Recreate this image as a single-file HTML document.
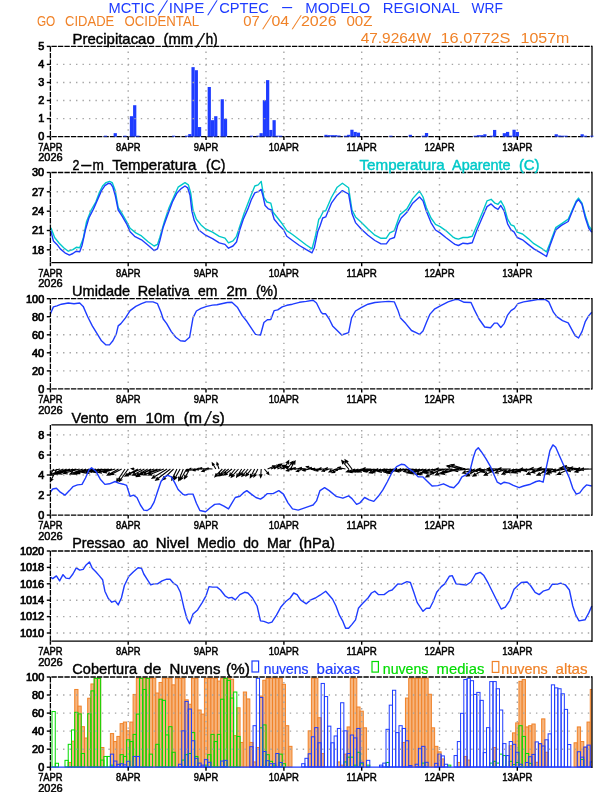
<!DOCTYPE html><html><head><meta charset="utf-8"><title>Meteograma WRF</title><style>html,body{margin:0;padding:0;background:#fff;}svg{display:block;}</style></head><body><svg width="612" height="792" viewBox="0 0 612 792" font-family="'Liberation Sans', sans-serif"><defs><clipPath id="c4"><rect x="50.4" y="424.9" width="541.6" height="90.2"/></clipPath><clipPath id="c6"><rect x="50.4" y="676.0" width="541.6" height="92.2"/></clipPath></defs><rect width="612" height="792" fill="#fff"/>
<text x="108.5" y="12.6" font-size="15.4" fill="rgb(30,60,255)" text-anchor="start" textLength="46.4" lengthAdjust="spacingAndGlyphs">MCTIC</text>
<text transform="translate(161.60,12.60) matrix(1,0,-0.5651,1.3333,-2.023,2.567)" x="0" y="0" font-size="15.4" fill="rgb(30,60,255)" text-anchor="middle">/</text>
<text x="168.8" y="12.6" font-size="15.4" fill="rgb(30,60,255)" text-anchor="start" textLength="35.5" lengthAdjust="spacingAndGlyphs">INPE</text>
<text transform="translate(211.45,12.60) matrix(1,0,-0.5562,1.3333,-1.992,2.567)" x="0" y="0" font-size="15.4" fill="rgb(30,60,255)" text-anchor="middle">/</text>
<text x="219.2" y="12.6" font-size="15.4" fill="rgb(30,60,255)" text-anchor="start" textLength="49.8" lengthAdjust="spacingAndGlyphs">CPTEC</text>
<text x="280.2" y="12.4" font-size="15.4" fill="rgb(30,60,255)" text-anchor="start" textLength="13.8" lengthAdjust="spacingAndGlyphs">-</text>
<text x="305.2" y="12.6" font-size="15.4" fill="rgb(30,60,255)" text-anchor="start" textLength="65.0" lengthAdjust="spacingAndGlyphs">MODELO</text>
<text x="382.8" y="12.6" font-size="15.4" fill="rgb(30,60,255)" text-anchor="start" textLength="77.0" lengthAdjust="spacingAndGlyphs">REGIONAL</text>
<text x="471.6" y="12.6" font-size="15.4" fill="rgb(30,60,255)" text-anchor="start" textLength="31.4" lengthAdjust="spacingAndGlyphs">WRF</text>
<text x="36.9" y="26.3" font-size="14.2" fill="rgb(240,130,40)" text-anchor="start" textLength="18.4" lengthAdjust="spacingAndGlyphs">GO</text>
<text x="65.1" y="26.3" font-size="14.2" fill="rgb(240,130,40)" text-anchor="start" textLength="49.1" lengthAdjust="spacingAndGlyphs">CIDADE</text>
<text x="124.5" y="26.3" font-size="14.2" fill="rgb(240,130,40)" text-anchor="start" textLength="74.6" lengthAdjust="spacingAndGlyphs">OCIDENTAL</text>
<text x="243.2" y="26.4" font-size="14.2" fill="rgb(240,130,40)" text-anchor="start" textLength="16.6" lengthAdjust="spacingAndGlyphs">07</text>
<text transform="translate(266.10,26.40) matrix(1,0,-0.5852,1.3333,-1.932,2.367)" x="0" y="0" font-size="14.2" fill="rgb(240,130,40)" text-anchor="middle">/</text>
<text x="271.5" y="26.4" font-size="14.2" fill="rgb(240,130,40)" text-anchor="start" textLength="17.7" lengthAdjust="spacingAndGlyphs">04</text>
<text transform="translate(295.60,26.40) matrix(1,0,-0.5852,1.3333,-1.932,2.367)" x="0" y="0" font-size="14.2" fill="rgb(240,130,40)" text-anchor="middle">/</text>
<text x="300.9" y="26.4" font-size="14.2" fill="rgb(240,130,40)" text-anchor="start" textLength="35.7" lengthAdjust="spacingAndGlyphs">2026</text>
<text x="346.4" y="26.4" font-size="14.2" fill="rgb(240,130,40)" text-anchor="start" textLength="26.0" lengthAdjust="spacingAndGlyphs">00Z</text>
<text x="360.7" y="42.6" font-size="14.6" fill="rgb(240,130,40)" text-anchor="start" textLength="70.3" lengthAdjust="spacingAndGlyphs">47.9264W</text>
<text x="440.5" y="42.6" font-size="14.6" fill="rgb(240,130,40)" text-anchor="start" textLength="70.0" lengthAdjust="spacingAndGlyphs">16.0772S</text>
<text x="520.5" y="42.6" font-size="14.6" fill="rgb(240,130,40)" text-anchor="start" textLength="48.8" lengthAdjust="spacingAndGlyphs">1057m</text>
<line x1="50.4" y1="46.4" x2="50.4" y2="136.6" stroke="#000" stroke-width="1.3" stroke-dasharray="5.4 1.1"/>
<line x1="592.0" y1="45.699999999999996" x2="592.0" y2="137.29999999999998" stroke="#000" stroke-width="1.3"/>
<line x1="51.4" y1="46.4" x2="592.0" y2="46.4" stroke="#000" stroke-width="1.3" stroke-dasharray="5.4 1.1"/>
<line x1="51.4" y1="136.6" x2="592.0" y2="136.6" stroke="#000" stroke-width="1.3" stroke-dasharray="5.4 1.1"/>
<rect x="103.90" y="135.70" width="3.24" height="0.90" fill="rgb(30,60,255)"/>
<rect x="113.63" y="133.17" width="3.24" height="3.43" fill="rgb(30,60,255)"/>
<rect x="123.36" y="135.70" width="3.24" height="0.90" fill="rgb(30,60,255)"/>
<rect x="129.84" y="116.21" width="3.24" height="20.39" fill="rgb(30,60,255)"/>
<rect x="133.09" y="105.21" width="3.24" height="31.39" fill="rgb(30,60,255)"/>
<rect x="136.33" y="135.70" width="3.24" height="0.90" fill="rgb(30,60,255)"/>
<rect x="172.00" y="135.70" width="3.24" height="0.90" fill="rgb(30,60,255)"/>
<rect x="184.97" y="135.70" width="3.24" height="0.90" fill="rgb(30,60,255)"/>
<rect x="188.21" y="134.07" width="3.24" height="2.53" fill="rgb(30,60,255)"/>
<rect x="191.45" y="67.15" width="3.24" height="69.45" fill="rgb(30,60,255)"/>
<rect x="194.69" y="70.21" width="3.24" height="66.39" fill="rgb(30,60,255)"/>
<rect x="197.94" y="127.04" width="3.24" height="9.56" fill="rgb(30,60,255)"/>
<rect x="207.66" y="86.99" width="3.24" height="49.61" fill="rgb(30,60,255)"/>
<rect x="210.91" y="120.18" width="3.24" height="16.42" fill="rgb(30,60,255)"/>
<rect x="214.15" y="116.21" width="3.24" height="20.39" fill="rgb(30,60,255)"/>
<rect x="220.63" y="99.26" width="3.24" height="37.34" fill="rgb(30,60,255)"/>
<rect x="223.88" y="118.74" width="3.24" height="17.86" fill="rgb(30,60,255)"/>
<rect x="249.81" y="135.70" width="3.24" height="0.90" fill="rgb(30,60,255)"/>
<rect x="256.30" y="135.70" width="3.24" height="0.90" fill="rgb(30,60,255)"/>
<rect x="259.54" y="133.17" width="3.24" height="3.43" fill="rgb(30,60,255)"/>
<rect x="262.79" y="100.16" width="3.24" height="36.44" fill="rgb(30,60,255)"/>
<rect x="266.03" y="80.13" width="3.24" height="56.47" fill="rgb(30,60,255)"/>
<rect x="269.27" y="129.93" width="3.24" height="6.67" fill="rgb(30,60,255)"/>
<rect x="272.51" y="120.18" width="3.24" height="16.42" fill="rgb(30,60,255)"/>
<rect x="275.75" y="135.70" width="3.24" height="0.90" fill="rgb(30,60,255)"/>
<rect x="279.00" y="135.70" width="3.24" height="0.90" fill="rgb(30,60,255)"/>
<rect x="324.39" y="134.80" width="3.24" height="1.80" fill="rgb(30,60,255)"/>
<rect x="327.63" y="135.16" width="3.24" height="1.44" fill="rgb(30,60,255)"/>
<rect x="330.88" y="135.16" width="3.24" height="1.44" fill="rgb(30,60,255)"/>
<rect x="334.12" y="135.16" width="3.24" height="1.44" fill="rgb(30,60,255)"/>
<rect x="337.36" y="135.52" width="3.24" height="1.08" fill="rgb(30,60,255)"/>
<rect x="343.85" y="135.70" width="3.24" height="0.90" fill="rgb(30,60,255)"/>
<rect x="347.09" y="134.80" width="3.24" height="1.80" fill="rgb(30,60,255)"/>
<rect x="350.33" y="129.74" width="3.24" height="6.86" fill="rgb(30,60,255)"/>
<rect x="353.57" y="131.91" width="3.24" height="4.69" fill="rgb(30,60,255)"/>
<rect x="356.82" y="132.63" width="3.24" height="3.97" fill="rgb(30,60,255)"/>
<rect x="389.24" y="135.70" width="3.24" height="0.90" fill="rgb(30,60,255)"/>
<rect x="408.70" y="134.80" width="3.24" height="1.80" fill="rgb(30,60,255)"/>
<rect x="421.67" y="135.70" width="3.24" height="0.90" fill="rgb(30,60,255)"/>
<rect x="424.91" y="132.99" width="3.24" height="3.61" fill="rgb(30,60,255)"/>
<rect x="473.55" y="135.70" width="3.24" height="0.90" fill="rgb(30,60,255)"/>
<rect x="476.79" y="135.16" width="3.24" height="1.44" fill="rgb(30,60,255)"/>
<rect x="480.03" y="135.16" width="3.24" height="1.44" fill="rgb(30,60,255)"/>
<rect x="483.27" y="134.25" width="3.24" height="2.35" fill="rgb(30,60,255)"/>
<rect x="489.76" y="135.70" width="3.24" height="0.90" fill="rgb(30,60,255)"/>
<rect x="493.00" y="129.93" width="3.24" height="6.67" fill="rgb(30,60,255)"/>
<rect x="502.73" y="133.17" width="3.24" height="3.43" fill="rgb(30,60,255)"/>
<rect x="505.97" y="131.91" width="3.24" height="4.69" fill="rgb(30,60,255)"/>
<rect x="509.21" y="135.70" width="3.24" height="0.90" fill="rgb(30,60,255)"/>
<rect x="512.46" y="129.74" width="3.24" height="6.86" fill="rgb(30,60,255)"/>
<rect x="515.70" y="131.91" width="3.24" height="4.69" fill="rgb(30,60,255)"/>
<rect x="554.61" y="134.25" width="3.24" height="2.35" fill="rgb(30,60,255)"/>
<rect x="557.85" y="135.52" width="3.24" height="1.08" fill="rgb(30,60,255)"/>
<rect x="561.10" y="135.70" width="3.24" height="0.90" fill="rgb(30,60,255)"/>
<rect x="564.34" y="135.70" width="3.24" height="0.90" fill="rgb(30,60,255)"/>
<rect x="583.79" y="135.70" width="3.24" height="0.90" fill="rgb(30,60,255)"/>
<rect x="580.55" y="134.25" width="3.24" height="2.35" fill="rgb(30,60,255)"/>
<rect x="590.28" y="135.70" width="3.24" height="0.90" fill="rgb(30,60,255)"/>
<line x1="56.58" y1="118.6" x2="590.5" y2="118.6" stroke="rgb(165,165,165)" stroke-width="1.4" stroke-dasharray="1.4 5.078"/>
<line x1="56.58" y1="100.5" x2="590.5" y2="100.5" stroke="rgb(165,165,165)" stroke-width="1.4" stroke-dasharray="1.4 5.078"/>
<line x1="56.58" y1="82.5" x2="590.5" y2="82.5" stroke="rgb(165,165,165)" stroke-width="1.4" stroke-dasharray="1.4 5.078"/>
<line x1="56.58" y1="64.4" x2="590.5" y2="64.4" stroke="rgb(165,165,165)" stroke-width="1.4" stroke-dasharray="1.4 5.078"/>
<line x1="128.2" y1="51.5" x2="128.2" y2="135.1" stroke="rgb(165,165,165)" stroke-width="1.4" stroke-dasharray="1.4 5.078"/>
<line x1="206.0" y1="51.5" x2="206.0" y2="135.1" stroke="rgb(165,165,165)" stroke-width="1.4" stroke-dasharray="1.4 5.078"/>
<line x1="283.9" y1="51.5" x2="283.9" y2="135.1" stroke="rgb(165,165,165)" stroke-width="1.4" stroke-dasharray="1.4 5.078"/>
<line x1="361.7" y1="51.5" x2="361.7" y2="135.1" stroke="rgb(165,165,165)" stroke-width="1.4" stroke-dasharray="1.4 5.078"/>
<line x1="439.5" y1="51.5" x2="439.5" y2="135.1" stroke="rgb(165,165,165)" stroke-width="1.4" stroke-dasharray="1.4 5.078"/>
<line x1="517.3" y1="51.5" x2="517.3" y2="135.1" stroke="rgb(165,165,165)" stroke-width="1.4" stroke-dasharray="1.4 5.078"/>
<line x1="46.8" y1="46.4" x2="50.4" y2="46.4" stroke="#000" stroke-width="1.4"/>
<text x="44.2" y="50.2" font-size="10.9" fill="#000" text-anchor="end" stroke="#000" stroke-width="0.7">5</text>
<line x1="46.8" y1="64.4" x2="50.4" y2="64.4" stroke="#000" stroke-width="1.4"/>
<text x="44.2" y="68.2" font-size="10.9" fill="#000" text-anchor="end" stroke="#000" stroke-width="0.7">4</text>
<line x1="46.8" y1="82.5" x2="50.4" y2="82.5" stroke="#000" stroke-width="1.4"/>
<text x="44.2" y="86.3" font-size="10.9" fill="#000" text-anchor="end" stroke="#000" stroke-width="0.7">3</text>
<line x1="46.8" y1="100.5" x2="50.4" y2="100.5" stroke="#000" stroke-width="1.4"/>
<text x="44.2" y="104.3" font-size="10.9" fill="#000" text-anchor="end" stroke="#000" stroke-width="0.7">2</text>
<line x1="46.8" y1="118.6" x2="50.4" y2="118.6" stroke="#000" stroke-width="1.4"/>
<text x="44.2" y="122.4" font-size="10.9" fill="#000" text-anchor="end" stroke="#000" stroke-width="0.7">1</text>
<line x1="46.8" y1="136.6" x2="50.4" y2="136.6" stroke="#000" stroke-width="1.4"/>
<text x="44.2" y="140.4" font-size="10.9" fill="#000" text-anchor="end" stroke="#000" stroke-width="0.7">0</text>
<line x1="50.4" y1="136.6" x2="50.4" y2="140.1" stroke="#000" stroke-width="1.4"/>
<text x="50.4" y="150.8" font-size="11.8" fill="#000" text-anchor="middle" textLength="24.5" lengthAdjust="spacingAndGlyphs" stroke="#000" stroke-width="0.5">7APR</text>
<line x1="128.2" y1="136.6" x2="128.2" y2="140.1" stroke="#000" stroke-width="1.4"/>
<text x="128.2" y="150.8" font-size="11.8" fill="#000" text-anchor="middle" textLength="24.5" lengthAdjust="spacingAndGlyphs" stroke="#000" stroke-width="0.5">8APR</text>
<line x1="206.0" y1="136.6" x2="206.0" y2="140.1" stroke="#000" stroke-width="1.4"/>
<text x="206.0" y="150.8" font-size="11.8" fill="#000" text-anchor="middle" textLength="24.5" lengthAdjust="spacingAndGlyphs" stroke="#000" stroke-width="0.5">9APR</text>
<line x1="283.9" y1="136.6" x2="283.9" y2="140.1" stroke="#000" stroke-width="1.4"/>
<text x="283.9" y="150.8" font-size="11.8" fill="#000" text-anchor="middle" textLength="30.2" lengthAdjust="spacingAndGlyphs" stroke="#000" stroke-width="0.5">10APR</text>
<line x1="361.7" y1="136.6" x2="361.7" y2="140.1" stroke="#000" stroke-width="1.4"/>
<text x="361.7" y="150.8" font-size="11.8" fill="#000" text-anchor="middle" textLength="30.2" lengthAdjust="spacingAndGlyphs" stroke="#000" stroke-width="0.5">11APR</text>
<line x1="439.5" y1="136.6" x2="439.5" y2="140.1" stroke="#000" stroke-width="1.4"/>
<text x="439.5" y="150.8" font-size="11.8" fill="#000" text-anchor="middle" textLength="30.2" lengthAdjust="spacingAndGlyphs" stroke="#000" stroke-width="0.5">12APR</text>
<line x1="517.3" y1="136.6" x2="517.3" y2="140.1" stroke="#000" stroke-width="1.4"/>
<text x="517.3" y="150.8" font-size="11.8" fill="#000" text-anchor="middle" textLength="30.2" lengthAdjust="spacingAndGlyphs" stroke="#000" stroke-width="0.5">13APR</text>
<text x="50.4" y="161.3" font-size="11.8" fill="#000" text-anchor="middle" textLength="24.5" lengthAdjust="spacingAndGlyphs" stroke="#000" stroke-width="0.5">2026</text>
<text x="72.6" y="44.2" font-size="14.2" fill="#000" text-anchor="start" textLength="82.1" lengthAdjust="spacingAndGlyphs" stroke="#000" stroke-width="0.4">Precipitacao</text>
<text x="163.5" y="44.2" font-size="14.2" fill="#000" text-anchor="start" textLength="29.5" lengthAdjust="spacingAndGlyphs" stroke="#000" stroke-width="0.4">(mm</text>
<text transform="translate(199.70,44.20) matrix(1,0,-0.4894,1.3333,-1.616,2.367)" x="0" y="0" font-size="14.2" fill="#000" text-anchor="middle" stroke="#000" stroke-width="0.4">/</text>
<text x="205.7" y="44.2" font-size="14.2" fill="#000" text-anchor="start" textLength="11.9" lengthAdjust="spacingAndGlyphs" stroke="#000" stroke-width="0.4">h)</text>
<polyline points="50.4,229.5 51.1,228.3 54.6,237.5 59.2,243.2 63.7,247.8 68.3,251.2 72.9,249.6 76.3,247.3 79.7,247.8 83.2,238.6 86.6,221.5 91.2,210.0 95.8,202.0 99.2,192.9 102.6,186.0 106.0,182.6 109.5,181.4 112.2,182.6 115.2,190.6 118.2,207.7 122.0,213.5 126.6,221.5 130.1,228.3 135.8,232.9 141.5,235.9 148.4,242.0 154.1,246.0 157.5,244.4 159.8,237.5 164.4,221.5 169.0,207.7 173.5,197.5 178.1,187.2 183.8,183.3 185.0,182.6 188.4,184.9 190.7,192.9 193.0,210.0 196.4,219.2 201.0,224.9 205.6,229.0 212.5,232.2 219.3,236.3 225.0,238.2 228.5,242.8 233.0,240.9 236.5,236.3 239.9,226.0 244.5,212.3 250.2,197.5 254.8,186.0 258.2,184.9 261.2,181.4 263.9,197.5 266.9,202.0 270.8,203.2 273.1,212.3 277.7,218.0 282.2,223.8 286.8,230.6 292.5,234.5 299.4,239.8 306.3,245.0 312.0,248.9 315.4,236.3 318.8,219.2 320.0,218.0 323.4,211.2 325.7,210.7 331.4,197.5 337.2,187.2 342.4,183.3 348.6,187.8 352.0,210.0 355.5,216.9 361.2,222.2 368.0,229.0 374.9,235.2 380.6,238.2 386.3,238.2 389.8,232.9 394.4,230.6 400.0,214.6 406.9,208.9 412.7,198.6 419.5,191.0 423.0,197.0 426.4,207.7 431.0,218.0 435.5,224.4 440.1,226.7 445.8,230.6 452.7,236.8 455.0,238.2 458.4,239.1 463.0,237.5 467.6,237.5 472.2,236.3 476.7,226.0 482.5,212.3 487.0,200.9 491.1,199.3 495.0,203.2 498.0,204.3 500.8,200.9 504.2,207.0 507.6,219.2 511.0,224.9 514.0,226.0 517.2,232.2 522.5,234.0 528.2,238.6 533.9,243.7 540.8,247.8 546.5,251.9 550.0,243.2 555.7,227.7 561.4,223.8 568.2,219.2 572.8,208.9 576.3,200.9 578.5,198.1 582.0,203.2 585.4,215.8 588.8,226.0 591.8,230.0" fill="none" stroke="rgb(0,200,200)" stroke-width="1.4" stroke-linejoin="round"/>
<polyline points="50.4,230.5 51.1,231.8 53.4,240.9 56.9,244.4 60.3,248.9 64.9,252.8 69.4,255.1 72.9,253.5 76.3,251.2 79.7,251.7 82.0,245.5 85.5,229.5 88.9,218.0 93.5,208.9 98.0,198.6 101.5,190.6 104.9,185.6 108.3,183.3 110.6,183.7 112.9,187.2 115.2,195.2 118.2,210.0 122.0,215.8 126.6,223.8 130.1,231.8 134.6,236.3 141.5,239.8 148.4,245.5 154.1,250.5 157.5,248.9 159.8,240.9 163.2,227.2 167.8,214.6 172.4,202.0 177.0,192.9 181.5,188.3 185.0,186.0 187.7,187.8 190.0,195.2 191.9,211.2 194.2,220.3 198.7,230.0 205.6,235.2 212.5,238.6 219.3,242.8 225.0,244.4 228.5,248.2 233.0,246.0 236.5,242.0 239.9,229.5 243.3,219.2 247.9,208.9 251.3,199.7 254.8,192.9 258.2,191.7 261.2,189.4 262.8,195.2 265.1,205.5 268.5,208.9 271.5,210.0 274.2,219.2 278.8,224.9 283.4,229.5 286.8,236.3 292.5,240.5 299.4,245.5 306.3,249.6 312.0,252.8 314.3,247.8 317.7,231.8 320.0,226.0 322.7,218.0 325.7,216.9 331.4,203.2 337.2,195.2 342.4,190.6 348.6,194.0 352.0,213.5 355.5,222.6 361.2,229.0 368.0,235.2 374.9,240.5 380.6,243.7 386.3,243.9 389.8,239.1 394.4,237.5 397.8,224.9 401.2,218.0 406.9,212.3 412.7,203.2 419.5,197.0 423.0,200.9 426.4,211.2 431.0,222.6 435.5,230.0 440.1,232.9 445.8,237.5 452.7,242.8 455.0,244.4 458.4,245.5 463.0,243.2 467.6,243.7 472.2,242.8 476.7,230.6 482.5,216.9 487.0,206.6 491.1,203.9 495.0,207.7 498.0,209.3 500.8,205.5 504.2,211.2 507.6,223.8 511.0,229.9 514.0,231.8 517.2,237.5 522.5,239.8 528.2,244.4 533.9,248.9 540.8,252.8 546.5,256.5 550.0,245.5 555.7,229.9 561.4,225.4 568.2,221.5 572.8,210.0 576.3,202.0 578.5,199.7 582.0,204.3 585.4,218.0 588.8,228.3 591.8,232.2" fill="none" stroke="rgb(30,60,255)" stroke-width="1.4" stroke-linejoin="round"/>
<line x1="56.58" y1="191.8" x2="590.5" y2="191.8" stroke="rgb(165,165,165)" stroke-width="1.4" stroke-dasharray="1.4 5.078"/>
<line x1="56.58" y1="211.2" x2="590.5" y2="211.2" stroke="rgb(165,165,165)" stroke-width="1.4" stroke-dasharray="1.4 5.078"/>
<line x1="56.58" y1="230.5" x2="590.5" y2="230.5" stroke="rgb(165,165,165)" stroke-width="1.4" stroke-dasharray="1.4 5.078"/>
<line x1="56.58" y1="249.8" x2="590.5" y2="249.8" stroke="rgb(165,165,165)" stroke-width="1.4" stroke-dasharray="1.4 5.078"/>
<line x1="128.2" y1="177.6" x2="128.2" y2="261.2" stroke="rgb(165,165,165)" stroke-width="1.4" stroke-dasharray="1.4 5.078"/>
<line x1="206.0" y1="177.6" x2="206.0" y2="261.2" stroke="rgb(165,165,165)" stroke-width="1.4" stroke-dasharray="1.4 5.078"/>
<line x1="283.9" y1="177.6" x2="283.9" y2="261.2" stroke="rgb(165,165,165)" stroke-width="1.4" stroke-dasharray="1.4 5.078"/>
<line x1="361.7" y1="177.6" x2="361.7" y2="261.2" stroke="rgb(165,165,165)" stroke-width="1.4" stroke-dasharray="1.4 5.078"/>
<line x1="439.5" y1="177.6" x2="439.5" y2="261.2" stroke="rgb(165,165,165)" stroke-width="1.4" stroke-dasharray="1.4 5.078"/>
<line x1="517.3" y1="177.6" x2="517.3" y2="261.2" stroke="rgb(165,165,165)" stroke-width="1.4" stroke-dasharray="1.4 5.078"/>
<line x1="50.4" y1="172.5" x2="50.4" y2="262.7" stroke="#000" stroke-width="1.3" stroke-dasharray="5.4 1.1"/>
<line x1="592.0" y1="171.8" x2="592.0" y2="263.4" stroke="#000" stroke-width="1.3"/>
<line x1="51.4" y1="172.5" x2="592.0" y2="172.5" stroke="#000" stroke-width="1.3" stroke-dasharray="5.4 1.1"/>
<line x1="51.4" y1="262.7" x2="592.0" y2="262.7" stroke="#000" stroke-width="1.3" />
<line x1="46.8" y1="172.5" x2="50.4" y2="172.5" stroke="#000" stroke-width="1.4"/>
<text x="44.2" y="176.3" font-size="10.9" fill="#000" text-anchor="end" stroke="#000" stroke-width="0.7">30</text>
<line x1="46.8" y1="191.8" x2="50.4" y2="191.8" stroke="#000" stroke-width="1.4"/>
<text x="44.2" y="195.6" font-size="10.9" fill="#000" text-anchor="end" stroke="#000" stroke-width="0.7">27</text>
<line x1="46.8" y1="211.2" x2="50.4" y2="211.2" stroke="#000" stroke-width="1.4"/>
<text x="44.2" y="215.0" font-size="10.9" fill="#000" text-anchor="end" stroke="#000" stroke-width="0.7">24</text>
<line x1="46.8" y1="230.5" x2="50.4" y2="230.5" stroke="#000" stroke-width="1.4"/>
<text x="44.2" y="234.3" font-size="10.9" fill="#000" text-anchor="end" stroke="#000" stroke-width="0.7">21</text>
<line x1="46.8" y1="249.8" x2="50.4" y2="249.8" stroke="#000" stroke-width="1.4"/>
<text x="44.2" y="253.6" font-size="10.9" fill="#000" text-anchor="end" stroke="#000" stroke-width="0.7">18</text>
<line x1="50.4" y1="262.7" x2="50.4" y2="266.2" stroke="#000" stroke-width="1.4"/>
<text x="50.4" y="276.9" font-size="11.8" fill="#000" text-anchor="middle" textLength="24.5" lengthAdjust="spacingAndGlyphs" stroke="#000" stroke-width="0.5">7APR</text>
<line x1="128.2" y1="262.7" x2="128.2" y2="266.2" stroke="#000" stroke-width="1.4"/>
<text x="128.2" y="276.9" font-size="11.8" fill="#000" text-anchor="middle" textLength="24.5" lengthAdjust="spacingAndGlyphs" stroke="#000" stroke-width="0.5">8APR</text>
<line x1="206.0" y1="262.7" x2="206.0" y2="266.2" stroke="#000" stroke-width="1.4"/>
<text x="206.0" y="276.9" font-size="11.8" fill="#000" text-anchor="middle" textLength="24.5" lengthAdjust="spacingAndGlyphs" stroke="#000" stroke-width="0.5">9APR</text>
<line x1="283.9" y1="262.7" x2="283.9" y2="266.2" stroke="#000" stroke-width="1.4"/>
<text x="283.9" y="276.9" font-size="11.8" fill="#000" text-anchor="middle" textLength="30.2" lengthAdjust="spacingAndGlyphs" stroke="#000" stroke-width="0.5">10APR</text>
<line x1="361.7" y1="262.7" x2="361.7" y2="266.2" stroke="#000" stroke-width="1.4"/>
<text x="361.7" y="276.9" font-size="11.8" fill="#000" text-anchor="middle" textLength="30.2" lengthAdjust="spacingAndGlyphs" stroke="#000" stroke-width="0.5">11APR</text>
<line x1="439.5" y1="262.7" x2="439.5" y2="266.2" stroke="#000" stroke-width="1.4"/>
<text x="439.5" y="276.9" font-size="11.8" fill="#000" text-anchor="middle" textLength="30.2" lengthAdjust="spacingAndGlyphs" stroke="#000" stroke-width="0.5">12APR</text>
<line x1="517.3" y1="262.7" x2="517.3" y2="266.2" stroke="#000" stroke-width="1.4"/>
<text x="517.3" y="276.9" font-size="11.8" fill="#000" text-anchor="middle" textLength="30.2" lengthAdjust="spacingAndGlyphs" stroke="#000" stroke-width="0.5">13APR</text>
<text x="50.4" y="287.4" font-size="11.8" fill="#000" text-anchor="middle" textLength="24.5" lengthAdjust="spacingAndGlyphs" stroke="#000" stroke-width="0.5">2026</text>
<text x="72.5" y="170.3" font-size="14.2" fill="#000" text-anchor="start" textLength="6.9" lengthAdjust="spacingAndGlyphs" stroke="#000" stroke-width="0.4">2</text>
<text x="80.0" y="170.3" font-size="14.2" fill="#000" text-anchor="start" textLength="12.7" lengthAdjust="spacingAndGlyphs" stroke="#000" stroke-width="0.4">-</text>
<text x="92.6" y="170.3" font-size="14.2" fill="#000" text-anchor="start" textLength="11.4" lengthAdjust="spacingAndGlyphs" stroke="#000" stroke-width="0.4">m</text>
<text x="112.2" y="170.3" font-size="14.2" fill="#000" text-anchor="start" textLength="84.2" lengthAdjust="spacingAndGlyphs" stroke="#000" stroke-width="0.4">Temperatura</text>
<text x="206.1" y="170.3" font-size="14.2" fill="#000" text-anchor="start" textLength="19.4" lengthAdjust="spacingAndGlyphs" stroke="#000" stroke-width="0.4">(C)</text>
<text x="359.5" y="170.0" font-size="14.2" fill="rgb(0,200,200)" text-anchor="start" textLength="85.2" lengthAdjust="spacingAndGlyphs" stroke="rgb(0,200,200)" stroke-width="0.4">Temperatura</text>
<text x="452.0" y="170.0" font-size="14.2" fill="rgb(0,200,200)" text-anchor="start" textLength="58.6" lengthAdjust="spacingAndGlyphs" stroke="rgb(0,200,200)" stroke-width="0.4">Aparente</text>
<text x="518.9" y="170.0" font-size="14.2" fill="rgb(0,200,200)" text-anchor="start" textLength="20.7" lengthAdjust="spacingAndGlyphs" stroke="rgb(0,200,200)" stroke-width="0.4">(C)</text>
<polyline points="50.4,314.0 51.1,312.2 53.4,306.9 56.9,305.8 61.4,304.2 68.3,303.0 74.0,303.7 79.7,303.0 83.2,306.4 87.7,316.7 92.3,325.9 96.9,333.4 101.5,340.8 106.0,344.9 109.5,344.9 112.9,340.8 116.3,333.9 118.2,325.9 120.9,323.6 125.5,317.9 130.1,310.6 135.8,306.4 141.5,303.7 146.1,301.9 153.0,301.9 157.5,303.7 161.0,312.2 163.2,319.0 166.7,323.6 171.3,331.6 175.8,337.3 180.4,340.8 185.0,341.2 189.6,337.3 193.0,317.9 196.4,311.0 201.0,308.3 206.7,306.4 212.5,305.1 217.0,304.8 222.7,303.5 227.3,302.5 231.9,302.3 237.6,307.6 242.2,315.6 246.8,321.3 251.3,328.2 255.5,334.4 260.5,335.0 263.9,322.5 267.4,319.7 270.8,319.5 274.2,310.6 277.7,309.9 282.2,306.9 286.8,305.3 292.5,304.2 299.4,302.3 306.3,301.4 313.1,300.3 316.5,303.0 321.1,312.2 322.7,313.8 325.7,313.8 329.2,319.0 332.6,325.9 337.2,330.5 341.7,335.0 348.6,332.7 351.6,317.9 355.5,311.0 361.2,307.6 368.0,304.2 374.9,302.5 381.8,301.9 388.6,301.4 394.4,301.9 397.8,309.9 400.5,317.9 405.8,323.6 411.5,330.5 416.1,332.7 419.5,334.4 423.0,331.1 426.4,322.5 429.8,314.4 434.4,309.2 441.3,305.3 448.1,301.9 455.0,299.6 458.4,299.6 464.2,302.3 471.0,302.5 474.4,309.9 479.0,319.0 484.7,327.0 490.5,327.7 494.4,323.1 497.3,323.1 500.8,327.5 504.2,323.6 507.6,315.1 511.0,310.6 514.5,308.3 517.9,303.7 523.6,301.9 530.5,300.7 537.4,299.6 545.4,299.6 548.8,301.9 553.4,312.2 556.8,316.7 562.5,320.6 568.2,322.9 571.7,329.3 575.1,335.7 578.5,338.0 582.0,331.6 585.4,321.3 588.8,315.6 591.8,312.2" fill="none" stroke="rgb(30,60,255)" stroke-width="1.4" stroke-linejoin="round"/>
<line x1="56.58" y1="370.9" x2="590.5" y2="370.9" stroke="rgb(165,165,165)" stroke-width="1.4" stroke-dasharray="1.4 5.078"/>
<line x1="56.58" y1="352.8" x2="590.5" y2="352.8" stroke="rgb(165,165,165)" stroke-width="1.4" stroke-dasharray="1.4 5.078"/>
<line x1="56.58" y1="334.8" x2="590.5" y2="334.8" stroke="rgb(165,165,165)" stroke-width="1.4" stroke-dasharray="1.4 5.078"/>
<line x1="56.58" y1="316.7" x2="590.5" y2="316.7" stroke="rgb(165,165,165)" stroke-width="1.4" stroke-dasharray="1.4 5.078"/>
<line x1="128.2" y1="303.8" x2="128.2" y2="387.4" stroke="rgb(165,165,165)" stroke-width="1.4" stroke-dasharray="1.4 5.078"/>
<line x1="206.0" y1="303.8" x2="206.0" y2="387.4" stroke="rgb(165,165,165)" stroke-width="1.4" stroke-dasharray="1.4 5.078"/>
<line x1="283.9" y1="303.8" x2="283.9" y2="387.4" stroke="rgb(165,165,165)" stroke-width="1.4" stroke-dasharray="1.4 5.078"/>
<line x1="361.7" y1="303.8" x2="361.7" y2="387.4" stroke="rgb(165,165,165)" stroke-width="1.4" stroke-dasharray="1.4 5.078"/>
<line x1="439.5" y1="303.8" x2="439.5" y2="387.4" stroke="rgb(165,165,165)" stroke-width="1.4" stroke-dasharray="1.4 5.078"/>
<line x1="517.3" y1="303.8" x2="517.3" y2="387.4" stroke="rgb(165,165,165)" stroke-width="1.4" stroke-dasharray="1.4 5.078"/>
<line x1="50.4" y1="298.7" x2="50.4" y2="388.9" stroke="#000" stroke-width="1.3" stroke-dasharray="5.4 1.1"/>
<line x1="592.0" y1="298.0" x2="592.0" y2="389.59999999999997" stroke="#000" stroke-width="1.3"/>
<line x1="51.4" y1="298.7" x2="592.0" y2="298.7" stroke="#000" stroke-width="1.3" stroke-dasharray="5.4 1.1"/>
<line x1="51.4" y1="388.9" x2="592.0" y2="388.9" stroke="#000" stroke-width="1.3" stroke-dasharray="5.4 1.1"/>
<line x1="46.8" y1="298.7" x2="50.4" y2="298.7" stroke="#000" stroke-width="1.4"/>
<text x="44.2" y="302.5" font-size="10.9" fill="#000" text-anchor="end" stroke="#000" stroke-width="0.7">100</text>
<line x1="46.8" y1="316.7" x2="50.4" y2="316.7" stroke="#000" stroke-width="1.4"/>
<text x="44.2" y="320.5" font-size="10.9" fill="#000" text-anchor="end" stroke="#000" stroke-width="0.7">80</text>
<line x1="46.8" y1="334.8" x2="50.4" y2="334.8" stroke="#000" stroke-width="1.4"/>
<text x="44.2" y="338.6" font-size="10.9" fill="#000" text-anchor="end" stroke="#000" stroke-width="0.7">60</text>
<line x1="46.8" y1="352.8" x2="50.4" y2="352.8" stroke="#000" stroke-width="1.4"/>
<text x="44.2" y="356.6" font-size="10.9" fill="#000" text-anchor="end" stroke="#000" stroke-width="0.7">40</text>
<line x1="46.8" y1="370.9" x2="50.4" y2="370.9" stroke="#000" stroke-width="1.4"/>
<text x="44.2" y="374.7" font-size="10.9" fill="#000" text-anchor="end" stroke="#000" stroke-width="0.7">20</text>
<line x1="46.8" y1="388.9" x2="50.4" y2="388.9" stroke="#000" stroke-width="1.4"/>
<text x="44.2" y="392.7" font-size="10.9" fill="#000" text-anchor="end" stroke="#000" stroke-width="0.7">0</text>
<line x1="50.4" y1="388.9" x2="50.4" y2="392.4" stroke="#000" stroke-width="1.4"/>
<text x="50.4" y="403.1" font-size="11.8" fill="#000" text-anchor="middle" textLength="24.5" lengthAdjust="spacingAndGlyphs" stroke="#000" stroke-width="0.5">7APR</text>
<line x1="128.2" y1="388.9" x2="128.2" y2="392.4" stroke="#000" stroke-width="1.4"/>
<text x="128.2" y="403.1" font-size="11.8" fill="#000" text-anchor="middle" textLength="24.5" lengthAdjust="spacingAndGlyphs" stroke="#000" stroke-width="0.5">8APR</text>
<line x1="206.0" y1="388.9" x2="206.0" y2="392.4" stroke="#000" stroke-width="1.4"/>
<text x="206.0" y="403.1" font-size="11.8" fill="#000" text-anchor="middle" textLength="24.5" lengthAdjust="spacingAndGlyphs" stroke="#000" stroke-width="0.5">9APR</text>
<line x1="283.9" y1="388.9" x2="283.9" y2="392.4" stroke="#000" stroke-width="1.4"/>
<text x="283.9" y="403.1" font-size="11.8" fill="#000" text-anchor="middle" textLength="30.2" lengthAdjust="spacingAndGlyphs" stroke="#000" stroke-width="0.5">10APR</text>
<line x1="361.7" y1="388.9" x2="361.7" y2="392.4" stroke="#000" stroke-width="1.4"/>
<text x="361.7" y="403.1" font-size="11.8" fill="#000" text-anchor="middle" textLength="30.2" lengthAdjust="spacingAndGlyphs" stroke="#000" stroke-width="0.5">11APR</text>
<line x1="439.5" y1="388.9" x2="439.5" y2="392.4" stroke="#000" stroke-width="1.4"/>
<text x="439.5" y="403.1" font-size="11.8" fill="#000" text-anchor="middle" textLength="30.2" lengthAdjust="spacingAndGlyphs" stroke="#000" stroke-width="0.5">12APR</text>
<line x1="517.3" y1="388.9" x2="517.3" y2="392.4" stroke="#000" stroke-width="1.4"/>
<text x="517.3" y="403.1" font-size="11.8" fill="#000" text-anchor="middle" textLength="30.2" lengthAdjust="spacingAndGlyphs" stroke="#000" stroke-width="0.5">13APR</text>
<text x="50.4" y="413.6" font-size="11.8" fill="#000" text-anchor="middle" textLength="24.5" lengthAdjust="spacingAndGlyphs" stroke="#000" stroke-width="0.5">2026</text>
<text x="72.1" y="296.4" font-size="14.2" fill="#000" text-anchor="start" textLength="58.1" lengthAdjust="spacingAndGlyphs" stroke="#000" stroke-width="0.4">Umidade</text>
<text x="137.7" y="296.4" font-size="14.2" fill="#000" text-anchor="start" textLength="52.1" lengthAdjust="spacingAndGlyphs" stroke="#000" stroke-width="0.4">Relativa</text>
<text x="198.0" y="296.4" font-size="14.2" fill="#000" text-anchor="start" textLength="19.3" lengthAdjust="spacingAndGlyphs" stroke="#000" stroke-width="0.4">em</text>
<text x="226.5" y="296.4" font-size="14.2" fill="#000" text-anchor="start" textLength="20.6" lengthAdjust="spacingAndGlyphs" stroke="#000" stroke-width="0.4">2m</text>
<text x="255.9" y="296.4" font-size="14.2" fill="#000" text-anchor="start" textLength="21.8" lengthAdjust="spacingAndGlyphs" stroke="#000" stroke-width="0.4">(%)</text>
<line x1="56.58" y1="495.1" x2="590.5" y2="495.1" stroke="rgb(165,165,165)" stroke-width="1.4" stroke-dasharray="1.4 5.078"/>
<line x1="56.58" y1="475.0" x2="590.5" y2="475.0" stroke="rgb(165,165,165)" stroke-width="1.4" stroke-dasharray="1.4 5.078"/>
<line x1="56.58" y1="455.0" x2="590.5" y2="455.0" stroke="rgb(165,165,165)" stroke-width="1.4" stroke-dasharray="1.4 5.078"/>
<line x1="56.58" y1="434.9" x2="590.5" y2="434.9" stroke="rgb(165,165,165)" stroke-width="1.4" stroke-dasharray="1.4 5.078"/>
<line x1="128.2" y1="430.0" x2="128.2" y2="513.6" stroke="rgb(165,165,165)" stroke-width="1.4" stroke-dasharray="1.4 5.078"/>
<line x1="206.0" y1="430.0" x2="206.0" y2="513.6" stroke="rgb(165,165,165)" stroke-width="1.4" stroke-dasharray="1.4 5.078"/>
<line x1="283.9" y1="430.0" x2="283.9" y2="513.6" stroke="rgb(165,165,165)" stroke-width="1.4" stroke-dasharray="1.4 5.078"/>
<line x1="361.7" y1="430.0" x2="361.7" y2="513.6" stroke="rgb(165,165,165)" stroke-width="1.4" stroke-dasharray="1.4 5.078"/>
<line x1="439.5" y1="430.0" x2="439.5" y2="513.6" stroke="rgb(165,165,165)" stroke-width="1.4" stroke-dasharray="1.4 5.078"/>
<line x1="517.3" y1="430.0" x2="517.3" y2="513.6" stroke="rgb(165,165,165)" stroke-width="1.4" stroke-dasharray="1.4 5.078"/>
<g clip-path="url(#c4)"><path d="M50.4,469.0L43.8,480.9M44.1,477.1L43.8,480.9L46.9,478.6M53.6,469.0L47.1,481.5M47.3,477.7L47.1,481.5L50.1,479.2M56.9,469.0L50.3,481.4M50.5,477.6L50.3,481.4L53.3,479.1M60.1,469.0L45.7,472.2M48.8,469.9L45.7,472.2L49.5,472.9M63.4,469.0L49.3,475.1M51.9,472.3L49.3,475.1L53.1,475.1M66.6,469.0L54.1,474.3M56.7,471.5L54.1,474.3L57.9,474.3M69.9,469.0L56.5,473.2M59.3,470.7L56.5,473.2L60.3,473.7M73.1,469.0L58.8,473.8M61.6,471.2L58.8,473.8L62.6,474.2M76.3,469.0L62.7,471.9M65.8,469.7L62.7,471.9L66.5,472.7M79.6,469.0L63.9,473.3M66.9,470.9L63.9,473.3L67.7,473.9M82.8,469.0L70.0,474.0M72.7,471.3L70.0,474.0L73.8,474.2M86.1,469.0L73.4,474.0M76.0,471.3L73.4,474.0L77.2,474.2M89.3,469.0L76.5,473.5M79.2,470.9L76.5,473.5L80.3,473.8M92.6,469.0L76.8,472.3M79.9,470.1L76.8,472.3L80.5,473.1M95.8,469.0L82.3,472.5M85.3,470.1L82.3,472.5L86.1,473.1M99.0,469.0L85.7,473.0M88.6,470.5L85.7,473.0L89.5,473.5M102.3,469.0L88.3,471.4M91.5,469.3L88.3,471.4L92.0,472.4M105.5,469.0L92.5,471.9M95.5,469.6L92.5,471.9L96.2,472.6M108.8,469.0L94.8,471.2M98.0,469.1L94.8,471.2L98.5,472.2M112.0,469.0L98.2,472.4M101.2,470.1L98.2,472.4L102.0,473.1M115.2,469.0L103.4,472.4M106.3,469.9L103.4,472.4L107.2,472.9M118.5,469.0L107.3,475.2M109.5,472.2L107.3,475.2L111.0,474.9M121.7,469.0L110.6,474.7M113.0,471.8L110.6,474.7L114.4,474.5M125.0,469.0L116.6,481.7M117.2,477.9L116.6,481.7L119.8,479.6M128.2,469.0L119.2,481.5M119.9,477.8L119.2,481.5L122.4,479.6M134.7,469.0L131.4,468.7M133.9,467.9L131.4,468.7L133.7,470.0M137.9,469.0L125.0,476.1M127.3,473.1L125.0,476.1L128.8,475.8M141.2,469.0L127.6,474.7M130.2,472.0L127.6,474.7L131.4,474.8M144.4,469.0L132.6,475.2M134.9,472.2L132.6,475.2L136.3,474.9M147.7,469.0L136.3,475.8M138.5,472.7L136.3,475.8L140.0,475.3M150.9,469.0L136.8,476.5M139.1,473.5L136.8,476.5L140.6,476.2M154.2,469.0L139.2,474.2M142.0,471.6L139.2,474.2L143.0,474.5M157.4,469.0L143.5,475.0M146.1,472.2L143.5,475.0L147.3,475.0M160.6,469.0L148.0,473.4M150.8,470.8L148.0,473.4L151.8,473.7M163.9,469.0L148.6,474.9M151.3,472.2L148.6,474.9L152.4,475.1M167.1,469.0L152.0,478.3M154.1,475.2L152.0,478.3L155.7,477.8M170.4,469.0L155.7,480.2M157.5,476.9L155.7,480.2L159.4,479.4M173.6,469.0L162.6,479.7M164.0,476.1L162.6,479.7L166.2,478.4M176.9,469.0L171.8,480.0M171.8,476.2L171.8,480.0L174.7,477.5M180.1,469.0L174.3,479.5M174.6,475.7L174.3,479.5L177.3,477.2M183.3,469.0L178.7,480.4M178.6,476.6L178.7,480.4L181.5,477.8M186.6,469.0L180.4,479.9M180.8,476.1L180.4,479.9L183.5,477.6M189.8,469.0L184.5,478.6M184.8,474.8L184.5,478.6L187.5,476.3M193.1,469.0L185.7,470.9M188.1,469.0L185.7,470.9L188.7,471.4M196.3,469.0L188.7,469.5M191.4,468.1L188.7,469.5L191.6,470.5M199.6,469.0L193.1,470.4M195.2,468.8L193.1,470.4L195.7,470.9M202.8,469.0L196.4,469.3M198.7,468.1L196.4,469.3L198.8,470.2M206.0,469.0L199.7,468.2M202.2,467.5L199.7,468.2L201.9,469.6M209.3,469.0L201.9,471.3M204.2,469.3L201.9,471.3L205.0,471.7M212.5,469.0L206.3,468.6M208.7,467.7L206.3,468.6L208.6,469.8M215.8,469.0L212.3,462.9M214.6,464.6L212.3,462.9L212.6,465.7M219.0,469.0L217.0,462.8M218.7,464.7L217.0,462.8L216.7,465.4M222.3,469.0L214.9,476.7M216.2,473.1L214.9,476.7L218.5,475.3M225.5,469.0L218.5,475.8M219.9,472.3L218.5,475.8L222.1,474.5M228.7,469.0L220.2,475.6M222.0,472.3L220.2,475.6L223.9,474.7M232.0,469.0L224.1,475.0M225.9,471.7L224.1,475.0L227.8,474.1M235.2,469.0L229.4,476.0M230.4,472.5L229.4,476.0L232.7,474.4M238.5,469.0L231.3,477.2M232.4,473.6L231.3,477.2L234.7,475.6M241.7,469.0L236.6,477.0M237.1,473.2L236.6,477.0L239.7,474.9M245.0,469.0L239.2,475.6M240.2,472.2L239.2,475.6L242.3,474.1M248.2,469.0L241.9,476.3M243.0,472.6L241.9,476.3L245.4,474.7M251.4,469.0L246.0,475.9M246.8,472.5L246.0,475.9L249.1,474.3M254.7,469.0L250.3,477.6M250.5,473.8L250.3,477.6L253.3,475.2M257.9,469.0L253.9,476.8M254.1,473.3L253.9,476.8L256.6,474.6M261.2,469.0L260.7,477.3M259.5,474.2L260.7,477.3L262.2,474.3M264.4,469.0L268.9,474.4M266.4,473.2L268.9,474.4L268.2,471.7M267.6,469.0L275.2,465.8M273.0,468.2L275.2,465.8L271.9,465.7M270.9,469.0L280.0,465.2M277.4,468.0L280.0,465.2L276.2,465.1M274.1,469.0L281.7,463.9M279.8,467.0L281.7,463.9L278.1,464.5M277.4,469.0L285.2,465.4M282.9,468.0L285.2,465.4L281.7,465.4M280.6,469.0L288.7,466.6M286.2,468.8L288.7,466.6L285.4,466.1M283.9,469.0L288.7,460.7M288.3,464.5L288.7,460.7L285.7,462.9M287.1,469.0L292.8,461.5M292.0,465.1L292.8,461.5L289.5,463.3M290.3,469.0L295.1,461.0M294.7,464.7L295.1,461.0L292.0,463.1M293.6,469.0L286.5,470.7M288.8,468.9L286.5,470.7L289.3,471.2M296.8,469.0L289.6,468.8M292.3,467.7L289.6,468.8L292.2,470.0M300.1,469.0L293.2,468.3M295.8,467.4L293.2,468.3L295.6,469.7M303.3,469.0L296.5,471.3M298.6,469.3L296.5,471.3L299.3,471.6M306.6,469.0L299.0,468.3M301.9,467.3L299.0,468.3L301.6,469.8M309.8,469.0L302.9,470.5M305.2,468.8L302.9,470.5L305.7,471.1M313.0,469.0L306.4,466.7M309.2,466.4L306.4,466.7L308.5,468.6M316.3,469.0L309.2,468.1M311.9,467.2L309.2,468.1L311.6,469.6M319.5,469.0L312.1,469.4M314.8,468.1L312.1,469.4L314.9,470.5M322.8,469.0L315.6,470.6M317.9,468.8L315.6,470.6L318.4,471.2M326.0,469.0L318.9,468.7M321.5,467.6L318.9,468.7L321.4,470.0M329.3,469.0L322.1,471.2M324.4,469.2L322.1,471.2L325.1,471.5M332.5,469.0L325.0,468.7M327.8,467.6L325.0,468.7L327.7,470.0M335.7,469.0L329.1,471.9M331.1,469.7L329.1,471.9L332.0,471.9M339.0,469.0L332.3,472.7M334.1,470.2L332.3,472.7L335.3,472.4M342.2,469.0L335.3,469.7M337.7,468.3L335.3,469.7L337.9,470.6M345.5,469.0L338.2,467.5M341.1,466.9L338.2,467.5L340.6,469.2M348.7,469.0L341.8,460.6M345.2,462.3L341.8,460.6L342.8,464.3M352.0,469.0L345.1,459.9M348.4,461.7L345.1,459.9L345.9,463.6M355.2,469.0L346.4,471.8M349.2,469.3L346.4,471.8L350.1,472.2M358.4,469.0L348.9,472.2M351.7,469.7L348.9,472.2L352.7,472.6M361.7,469.0L352.3,471.7M355.2,469.2L352.3,471.7L356.1,472.2M364.9,469.0L354.8,471.7M357.7,469.3L354.8,471.7L358.5,472.3M368.2,469.0L358.1,471.7M361.1,469.3L358.1,471.7L361.9,472.3M371.4,469.0L362.3,469.1M365.6,467.6L362.3,469.1L365.6,470.6M374.6,469.0L364.6,470.9M367.7,468.7L364.6,470.9L368.3,471.8M377.9,469.0L363.7,471.4M366.8,469.3L363.7,471.4L367.3,472.3M381.1,469.0L369.3,472.8M372.1,470.2L369.3,472.8L373.0,473.2M384.4,469.0L371.8,472.2M374.7,469.9L371.8,472.2L375.5,472.9M387.6,469.0L375.0,470.3M378.2,468.4L375.0,470.3L378.6,471.5M390.9,469.0L378.2,471.5M381.3,469.3L378.2,471.5L381.9,472.4M394.1,469.0L381.8,470.9M385.0,468.9L381.8,470.9L385.5,471.9M397.3,469.0L384.3,472.3M387.3,470.0L384.3,472.3L388.0,473.0M400.6,469.0L387.1,473.2M389.9,470.7L387.1,473.2L390.9,473.6M403.8,469.0L388.9,471.6M392.1,469.4L388.9,471.6L392.6,472.5M407.1,469.0L393.6,470.2M396.9,468.3L393.6,470.2L397.2,471.4M410.3,469.0L395.9,471.2M399.1,469.1L395.9,471.2L399.6,472.2M413.6,469.0L397.7,470.3M401.0,468.5L397.7,470.3L401.3,471.6M416.8,469.0L403.7,471.5M406.8,469.4L403.7,471.5L407.4,472.4M420.0,469.0L407.1,472.9M410.0,470.4L407.1,472.9L410.9,473.4M423.3,469.0L409.5,472.7M412.4,470.3L409.5,472.7L413.2,473.3M426.5,469.0L410.8,473.5M413.7,471.1L410.8,473.5L414.6,474.0M429.8,469.0L416.2,474.4M418.9,471.7L416.2,474.4L420.0,474.5M433.0,469.0L418.8,474.6M421.4,471.9L418.8,474.6L422.6,474.8M436.3,469.0L422.8,471.6M425.9,469.4L422.8,471.6L426.5,472.4M439.5,469.0L425.0,473.2M427.9,470.8L425.0,473.2L428.8,473.7M442.7,469.0L425.9,476.8M428.4,473.9L425.9,476.8L429.7,476.7M446.0,469.0L430.3,473.2M433.2,470.8L430.3,473.2L434.0,473.8M449.2,469.0L435.5,474.9M438.0,472.1L435.5,474.9L439.3,474.9M452.5,469.0L435.4,469.3M438.8,467.7L435.4,469.3L438.9,470.8M455.7,469.0L440.8,473.1M443.7,470.7L440.8,473.1L444.5,473.7M459.0,469.0L441.3,473.9M444.3,471.5L441.3,473.9L445.1,474.5M462.2,469.0L446.9,465.9M450.6,465.1L446.9,465.9L450.0,468.1M465.4,469.0L450.9,464.9M454.7,464.4L450.9,464.9L453.8,467.4M468.7,469.0L453.3,470.4M456.6,468.5L453.3,470.4L456.9,471.6M471.9,469.0L454.7,470.5M458.0,468.6L454.7,470.5L458.3,471.7M475.2,469.0L462.7,473.1M465.5,470.5L462.7,473.1L466.5,473.5M478.4,469.0L466.5,476.0M468.7,472.9L466.5,476.0L470.2,475.6M481.7,469.0L468.7,471.8M471.7,469.6L468.7,471.8L472.4,472.6M484.9,469.0L473.0,476.0M475.2,472.9L473.0,476.0L476.8,475.6M488.1,469.0L474.5,471.0M477.7,468.9L474.5,471.0L478.1,472.0M491.4,469.0L477.2,469.7M480.6,468.0L477.2,469.7L480.7,471.1M494.6,469.0L481.7,472.0M484.8,469.7L481.7,472.0L485.5,472.7M497.9,469.0L484.3,475.1M486.8,472.2L484.3,475.1L488.1,475.1M501.1,469.0L487.1,468.9M490.6,467.3L487.1,468.9L490.6,470.4M504.4,469.0L489.3,471.1M492.5,469.0L489.3,471.1L492.9,472.1M507.6,469.0L495.1,472.8M498.0,470.3L495.1,472.8L498.9,473.3M510.8,469.0L498.0,469.1M501.5,467.5L498.0,469.1L501.5,470.6M514.1,469.0L502.0,474.3M504.5,471.5L502.0,474.3L505.8,474.3M517.3,469.0L503.8,471.7M506.9,469.5L503.8,471.7L507.5,472.6M520.6,469.0L506.7,472.1M509.8,469.8L506.7,472.1L510.5,472.9M523.8,469.0L511.6,472.5M514.5,470.0L511.6,472.5L515.4,473.0M527.0,469.0L514.3,472.7M517.2,470.3L514.3,472.7L518.1,473.2M530.3,469.0L517.1,471.1M520.3,469.0L517.1,471.1L520.8,472.1M533.5,469.0L519.6,469.4M523.0,467.7L519.6,469.4L523.1,470.8M536.8,469.0L523.4,470.6M526.7,468.7L523.4,470.6L527.1,471.7M540.0,469.0L526.9,474.3M529.5,471.5L526.9,474.3L530.7,474.4M543.3,469.0L530.2,468.8M533.7,467.3L530.2,468.8L533.6,470.4M546.5,469.0L531.7,472.3M534.8,470.0L531.7,472.3L535.4,473.1M549.7,469.0L537.2,475.2M539.6,472.3L537.2,475.2L541.0,475.1M553.0,469.0L538.3,468.6M541.8,467.1L538.3,468.6L541.7,470.2M556.2,469.0L542.4,471.9M545.5,469.6L542.4,471.9L546.1,472.7M559.5,469.0L546.1,474.0M548.8,471.4L546.1,474.0L549.9,474.3M562.7,469.0L548.0,472.5M551.0,470.2L548.0,472.5L551.7,473.2M566.0,469.0L552.7,471.4M555.8,469.3L552.7,471.4L556.3,472.3M569.2,469.0L557.5,474.5M560.0,471.6L557.5,474.5L561.3,474.4M572.4,469.0L559.7,468.0M563.3,466.7L559.7,468.0L563.1,469.8M575.7,469.0L563.2,466.4M566.9,465.6L563.2,466.4L566.3,468.6M578.9,469.0L567.3,470.7M570.6,468.6L567.3,470.7L571.0,471.7M582.2,469.0L569.6,467.9M573.2,466.7L569.6,467.9L572.9,469.8M585.4,469.0L574.9,471.9M577.8,469.5L574.9,471.9L578.6,472.4M588.7,469.0L576.6,469.3M580.1,467.6L576.6,469.3L580.2,470.7M591.9,469.0L580.5,469.4M583.9,467.7L580.5,469.4L584.0,470.8" fill="none" stroke="#000" stroke-width="1.1"/></g>
<polyline points="50.4,492.2 52.7,489.0 56.4,488.3 60.3,492.2 64.9,495.2 69.4,490.6 72.9,486.7 77.5,484.9 82.0,484.4 85.5,478.0 88.9,470.0 91.6,467.7 95.8,471.2 100.3,479.2 104.9,484.4 109.5,483.8 115.2,481.5 118.6,483.1 123.2,484.2 126.6,485.4 130.1,496.3 133.5,495.2 136.9,497.5 140.4,505.0 143.8,510.1 147.2,510.5 150.7,508.2 154.1,502.1 157.5,491.8 161.0,481.5 164.4,476.9 167.8,475.3 171.3,476.9 174.7,482.6 178.1,489.5 182.7,494.1 185.0,495.2 188.4,494.1 193.0,494.1 196.4,503.2 199.9,510.5 205.6,511.7 210.2,507.8 214.7,504.4 219.3,503.9 223.9,506.2 228.5,508.9 231.9,503.2 235.3,497.5 239.9,496.3 243.3,492.9 246.8,490.6 251.3,494.1 255.9,497.5 260.5,499.1 263.9,496.8 267.4,493.6 273.1,493.6 278.8,490.6 283.4,494.1 288.0,502.8 292.5,508.9 298.2,510.1 304.0,508.2 309.7,506.2 313.1,505.0 316.5,500.9 320.0,490.6 324.6,487.7 329.2,490.6 336.0,496.3 342.9,498.2 348.6,495.9 352.0,498.6 356.6,504.4 360.0,502.8 364.6,497.5 369.2,499.8 373.8,501.4 378.3,496.3 382.9,489.9 387.5,481.5 392.1,472.3 396.6,466.6 401.2,464.3 404.6,464.8 409.2,468.9 413.8,472.3 418.4,476.9 423.0,476.9 427.5,481.5 432.1,486.0 437.8,485.6 443.5,483.8 449.3,486.7 453.8,487.7 458.4,483.1 461.9,476.9 466.4,474.6 469.9,471.2 473.3,457.5 475.6,450.6 478.3,447.8 481.3,451.7 485.9,458.6 490.5,466.6 493.9,474.6 497.3,482.2 500.8,484.2 504.2,482.2 508.8,483.1 513.3,485.4 519.1,487.7 523.6,486.0 530.5,484.2 536.2,481.5 539.6,480.8 543.1,482.2 546.5,466.6 549.9,450.6 552.9,444.9 555.7,447.2 560.2,457.5 564.8,467.7 569.4,478.0 572.8,488.3 576.3,494.1 579.7,492.9 583.1,488.3 586.5,484.9 591.8,486.0" fill="none" stroke="rgb(30,60,255)" stroke-width="1.4" stroke-linejoin="round"/>
<line x1="50.4" y1="424.9" x2="50.4" y2="515.1" stroke="#000" stroke-width="1.3" stroke-dasharray="5.4 1.1"/>
<line x1="592.0" y1="424.2" x2="592.0" y2="515.8000000000001" stroke="#000" stroke-width="1.3"/>
<line x1="51.4" y1="424.9" x2="592.0" y2="424.9" stroke="#000" stroke-width="1.3" />
<line x1="51.4" y1="515.1" x2="592.0" y2="515.1" stroke="#000" stroke-width="1.3" stroke-dasharray="5.4 1.1"/>
<line x1="46.8" y1="434.9" x2="50.4" y2="434.9" stroke="#000" stroke-width="1.4"/>
<text x="44.2" y="438.7" font-size="10.9" fill="#000" text-anchor="end" stroke="#000" stroke-width="0.7">8</text>
<line x1="46.8" y1="455.0" x2="50.4" y2="455.0" stroke="#000" stroke-width="1.4"/>
<text x="44.2" y="458.8" font-size="10.9" fill="#000" text-anchor="end" stroke="#000" stroke-width="0.7">6</text>
<line x1="46.8" y1="475.0" x2="50.4" y2="475.0" stroke="#000" stroke-width="1.4"/>
<text x="44.2" y="478.8" font-size="10.9" fill="#000" text-anchor="end" stroke="#000" stroke-width="0.7">4</text>
<line x1="46.8" y1="495.1" x2="50.4" y2="495.1" stroke="#000" stroke-width="1.4"/>
<text x="44.2" y="498.9" font-size="10.9" fill="#000" text-anchor="end" stroke="#000" stroke-width="0.7">2</text>
<line x1="46.8" y1="515.1" x2="50.4" y2="515.1" stroke="#000" stroke-width="1.4"/>
<text x="44.2" y="518.9" font-size="10.9" fill="#000" text-anchor="end" stroke="#000" stroke-width="0.7">0</text>
<line x1="50.4" y1="515.1" x2="50.4" y2="518.6" stroke="#000" stroke-width="1.4"/>
<text x="50.4" y="529.3" font-size="11.8" fill="#000" text-anchor="middle" textLength="24.5" lengthAdjust="spacingAndGlyphs" stroke="#000" stroke-width="0.5">7APR</text>
<line x1="128.2" y1="515.1" x2="128.2" y2="518.6" stroke="#000" stroke-width="1.4"/>
<text x="128.2" y="529.3" font-size="11.8" fill="#000" text-anchor="middle" textLength="24.5" lengthAdjust="spacingAndGlyphs" stroke="#000" stroke-width="0.5">8APR</text>
<line x1="206.0" y1="515.1" x2="206.0" y2="518.6" stroke="#000" stroke-width="1.4"/>
<text x="206.0" y="529.3" font-size="11.8" fill="#000" text-anchor="middle" textLength="24.5" lengthAdjust="spacingAndGlyphs" stroke="#000" stroke-width="0.5">9APR</text>
<line x1="283.9" y1="515.1" x2="283.9" y2="518.6" stroke="#000" stroke-width="1.4"/>
<text x="283.9" y="529.3" font-size="11.8" fill="#000" text-anchor="middle" textLength="30.2" lengthAdjust="spacingAndGlyphs" stroke="#000" stroke-width="0.5">10APR</text>
<line x1="361.7" y1="515.1" x2="361.7" y2="518.6" stroke="#000" stroke-width="1.4"/>
<text x="361.7" y="529.3" font-size="11.8" fill="#000" text-anchor="middle" textLength="30.2" lengthAdjust="spacingAndGlyphs" stroke="#000" stroke-width="0.5">11APR</text>
<line x1="439.5" y1="515.1" x2="439.5" y2="518.6" stroke="#000" stroke-width="1.4"/>
<text x="439.5" y="529.3" font-size="11.8" fill="#000" text-anchor="middle" textLength="30.2" lengthAdjust="spacingAndGlyphs" stroke="#000" stroke-width="0.5">12APR</text>
<line x1="517.3" y1="515.1" x2="517.3" y2="518.6" stroke="#000" stroke-width="1.4"/>
<text x="517.3" y="529.3" font-size="11.8" fill="#000" text-anchor="middle" textLength="30.2" lengthAdjust="spacingAndGlyphs" stroke="#000" stroke-width="0.5">13APR</text>
<text x="50.4" y="539.8" font-size="11.8" fill="#000" text-anchor="middle" textLength="24.5" lengthAdjust="spacingAndGlyphs" stroke="#000" stroke-width="0.5">2026</text>
<text x="71.5" y="422.6" font-size="14.2" fill="#000" text-anchor="start" textLength="37.2" lengthAdjust="spacingAndGlyphs" stroke="#000" stroke-width="0.4">Vento</text>
<text x="116.0" y="422.6" font-size="14.2" fill="#000" text-anchor="start" textLength="20.7" lengthAdjust="spacingAndGlyphs" stroke="#000" stroke-width="0.4">em</text>
<text x="145.5" y="422.6" font-size="14.2" fill="#000" text-anchor="start" textLength="29.4" lengthAdjust="spacingAndGlyphs" stroke="#000" stroke-width="0.4">10m</text>
<text x="183.7" y="422.6" font-size="14.2" fill="#000" text-anchor="start" textLength="18.2" lengthAdjust="spacingAndGlyphs" stroke="#000" stroke-width="0.4">(m</text>
<text transform="translate(207.35,422.60) matrix(1,0,-0.3457,1.3333,-1.141,2.367)" x="0" y="0" font-size="14.2" fill="#000" text-anchor="middle" stroke="#000" stroke-width="0.4">/</text>
<text x="212.3" y="422.6" font-size="14.2" fill="#000" text-anchor="start" textLength="12.4" lengthAdjust="spacingAndGlyphs" stroke="#000" stroke-width="0.4">s)</text>
<polyline points="50.4,577.0 52.7,578.6 56.4,575.9 59.6,580.9 63.0,574.7 66.0,578.1 69.4,578.6 72.9,574.0 76.3,567.8 79.7,570.1 83.2,569.4 86.1,564.9 89.4,561.9 92.3,568.3 95.8,571.7 99.2,575.6 102.6,579.7 104.9,591.2 108.3,598.5 111.8,602.2 115.2,600.8 118.2,604.9 121.4,598.0 124.4,585.5 128.9,576.3 133.5,571.7 138.1,567.8 141.5,568.3 143.8,574.0 147.2,579.3 150.7,584.8 154.1,583.9 157.5,583.9 162.1,580.9 166.7,579.1 170.1,579.3 173.5,583.2 177.0,585.5 180.4,592.3 183.8,607.2 186.8,618.2 189.6,623.7 193.0,614.1 197.6,609.9 202.2,602.6 206.0,595.8 209.0,586.6 212.5,587.1 217.0,587.1 220.5,590.0 225.0,595.8 228.5,598.0 231.9,597.4 235.3,599.9 239.9,594.6 244.5,592.3 247.9,593.0 252.5,598.0 257.1,606.0 260.5,620.9 263.9,621.4 268.5,623.2 271.9,622.1 276.5,615.2 281.1,606.7 285.7,601.5 290.2,598.0 293.7,593.0 297.1,594.6 300.5,599.9 306.3,603.8 310.8,599.9 315.4,598.0 320.0,595.2 325.7,591.2 329.2,595.3 332.6,599.2 336.0,606.0 339.4,615.2 342.9,621.4 345.6,628.2 348.6,628.2 352.0,624.4 355.5,619.8 358.4,608.3 362.3,603.8 368.0,598.0 371.5,593.0 374.9,591.2 378.3,594.6 384.1,594.6 388.6,591.2 392.1,590.0 397.8,583.9 401.2,584.3 406.9,581.6 410.4,582.5 413.8,592.3 417.2,602.6 423.0,611.3 426.4,608.3 429.8,608.3 433.2,601.5 436.7,592.3 441.3,586.6 444.7,583.9 449.3,576.3 452.2,575.6 456.1,583.9 459.6,584.3 466.4,585.0 471.0,582.0 475.6,574.0 480.2,572.4 483.6,575.2 488.2,583.2 492.7,592.3 497.3,601.5 501.2,609.0 505.3,607.2 509.9,600.3 514.0,589.3 517.9,585.5 521.3,582.5 527.1,582.0 530.5,585.5 535.1,592.3 539.2,594.6 543.1,591.2 548.8,589.3 552.2,584.3 556.8,584.3 560.7,583.2 565.3,584.8 569.4,590.0 572.8,606.0 575.8,615.2 579.0,620.9 585.0,619.8 588.8,612.9 591.8,606.0" fill="none" stroke="rgb(30,60,255)" stroke-width="1.4" stroke-linejoin="round"/>
<line x1="56.58" y1="567.4" x2="590.5" y2="567.4" stroke="rgb(165,165,165)" stroke-width="1.4" stroke-dasharray="1.4 5.078"/>
<line x1="56.58" y1="583.8" x2="590.5" y2="583.8" stroke="rgb(165,165,165)" stroke-width="1.4" stroke-dasharray="1.4 5.078"/>
<line x1="56.58" y1="600.2" x2="590.5" y2="600.2" stroke="rgb(165,165,165)" stroke-width="1.4" stroke-dasharray="1.4 5.078"/>
<line x1="56.58" y1="616.6" x2="590.5" y2="616.6" stroke="rgb(165,165,165)" stroke-width="1.4" stroke-dasharray="1.4 5.078"/>
<line x1="56.58" y1="633.0" x2="590.5" y2="633.0" stroke="rgb(165,165,165)" stroke-width="1.4" stroke-dasharray="1.4 5.078"/>
<line x1="128.2" y1="556.1" x2="128.2" y2="639.7" stroke="rgb(165,165,165)" stroke-width="1.4" stroke-dasharray="1.4 5.078"/>
<line x1="206.0" y1="556.1" x2="206.0" y2="639.7" stroke="rgb(165,165,165)" stroke-width="1.4" stroke-dasharray="1.4 5.078"/>
<line x1="283.9" y1="556.1" x2="283.9" y2="639.7" stroke="rgb(165,165,165)" stroke-width="1.4" stroke-dasharray="1.4 5.078"/>
<line x1="361.7" y1="556.1" x2="361.7" y2="639.7" stroke="rgb(165,165,165)" stroke-width="1.4" stroke-dasharray="1.4 5.078"/>
<line x1="439.5" y1="556.1" x2="439.5" y2="639.7" stroke="rgb(165,165,165)" stroke-width="1.4" stroke-dasharray="1.4 5.078"/>
<line x1="517.3" y1="556.1" x2="517.3" y2="639.7" stroke="rgb(165,165,165)" stroke-width="1.4" stroke-dasharray="1.4 5.078"/>
<line x1="50.4" y1="551.0" x2="50.4" y2="641.2" stroke="#000" stroke-width="1.3" stroke-dasharray="5.4 1.1"/>
<line x1="592.0" y1="550.3" x2="592.0" y2="641.9000000000001" stroke="#000" stroke-width="1.3"/>
<line x1="51.4" y1="551.0" x2="592.0" y2="551.0" stroke="#000" stroke-width="1.3" stroke-dasharray="5.4 1.1"/>
<line x1="51.4" y1="641.2" x2="592.0" y2="641.2" stroke="#000" stroke-width="1.3" />
<line x1="46.8" y1="551.0" x2="50.4" y2="551.0" stroke="#000" stroke-width="1.4"/>
<text x="44.2" y="554.8" font-size="10.9" fill="#000" text-anchor="end" stroke="#000" stroke-width="0.7">1020</text>
<line x1="46.8" y1="567.4" x2="50.4" y2="567.4" stroke="#000" stroke-width="1.4"/>
<text x="44.2" y="571.2" font-size="10.9" fill="#000" text-anchor="end" stroke="#000" stroke-width="0.7">1018</text>
<line x1="46.8" y1="583.8" x2="50.4" y2="583.8" stroke="#000" stroke-width="1.4"/>
<text x="44.2" y="587.6" font-size="10.9" fill="#000" text-anchor="end" stroke="#000" stroke-width="0.7">1016</text>
<line x1="46.8" y1="600.2" x2="50.4" y2="600.2" stroke="#000" stroke-width="1.4"/>
<text x="44.2" y="604.0" font-size="10.9" fill="#000" text-anchor="end" stroke="#000" stroke-width="0.7">1014</text>
<line x1="46.8" y1="616.6" x2="50.4" y2="616.6" stroke="#000" stroke-width="1.4"/>
<text x="44.2" y="620.4" font-size="10.9" fill="#000" text-anchor="end" stroke="#000" stroke-width="0.7">1012</text>
<line x1="46.8" y1="633.0" x2="50.4" y2="633.0" stroke="#000" stroke-width="1.4"/>
<text x="44.2" y="636.8" font-size="10.9" fill="#000" text-anchor="end" stroke="#000" stroke-width="0.7">1010</text>
<line x1="50.4" y1="641.2" x2="50.4" y2="644.7" stroke="#000" stroke-width="1.4"/>
<text x="50.4" y="655.4" font-size="11.8" fill="#000" text-anchor="middle" textLength="24.5" lengthAdjust="spacingAndGlyphs" stroke="#000" stroke-width="0.5">7APR</text>
<line x1="128.2" y1="641.2" x2="128.2" y2="644.7" stroke="#000" stroke-width="1.4"/>
<text x="128.2" y="655.4" font-size="11.8" fill="#000" text-anchor="middle" textLength="24.5" lengthAdjust="spacingAndGlyphs" stroke="#000" stroke-width="0.5">8APR</text>
<line x1="206.0" y1="641.2" x2="206.0" y2="644.7" stroke="#000" stroke-width="1.4"/>
<text x="206.0" y="655.4" font-size="11.8" fill="#000" text-anchor="middle" textLength="24.5" lengthAdjust="spacingAndGlyphs" stroke="#000" stroke-width="0.5">9APR</text>
<line x1="283.9" y1="641.2" x2="283.9" y2="644.7" stroke="#000" stroke-width="1.4"/>
<text x="283.9" y="655.4" font-size="11.8" fill="#000" text-anchor="middle" textLength="30.2" lengthAdjust="spacingAndGlyphs" stroke="#000" stroke-width="0.5">10APR</text>
<line x1="361.7" y1="641.2" x2="361.7" y2="644.7" stroke="#000" stroke-width="1.4"/>
<text x="361.7" y="655.4" font-size="11.8" fill="#000" text-anchor="middle" textLength="30.2" lengthAdjust="spacingAndGlyphs" stroke="#000" stroke-width="0.5">11APR</text>
<line x1="439.5" y1="641.2" x2="439.5" y2="644.7" stroke="#000" stroke-width="1.4"/>
<text x="439.5" y="655.4" font-size="11.8" fill="#000" text-anchor="middle" textLength="30.2" lengthAdjust="spacingAndGlyphs" stroke="#000" stroke-width="0.5">12APR</text>
<line x1="517.3" y1="641.2" x2="517.3" y2="644.7" stroke="#000" stroke-width="1.4"/>
<text x="517.3" y="655.4" font-size="11.8" fill="#000" text-anchor="middle" textLength="30.2" lengthAdjust="spacingAndGlyphs" stroke="#000" stroke-width="0.5">13APR</text>
<text x="50.4" y="665.9" font-size="11.8" fill="#000" text-anchor="middle" textLength="24.5" lengthAdjust="spacingAndGlyphs" stroke="#000" stroke-width="0.5">2026</text>
<text x="72.2" y="547.9" font-size="14.2" fill="#000" text-anchor="start" textLength="52.7" lengthAdjust="spacingAndGlyphs" stroke="#000" stroke-width="0.4">Pressao</text>
<text x="132.8" y="547.9" font-size="14.2" fill="#000" text-anchor="start" textLength="15.5" lengthAdjust="spacingAndGlyphs" stroke="#000" stroke-width="0.4">ao</text>
<text x="155.7" y="547.9" font-size="14.2" fill="#000" text-anchor="start" textLength="33.3" lengthAdjust="spacingAndGlyphs" stroke="#000" stroke-width="0.4">Nivel</text>
<text x="197.0" y="547.9" font-size="14.2" fill="#000" text-anchor="start" textLength="38.5" lengthAdjust="spacingAndGlyphs" stroke="#000" stroke-width="0.4">Medio</text>
<text x="243.2" y="547.9" font-size="14.2" fill="#000" text-anchor="start" textLength="15.5" lengthAdjust="spacingAndGlyphs" stroke="#000" stroke-width="0.4">do</text>
<text x="266.9" y="547.9" font-size="14.2" fill="#000" text-anchor="start" textLength="24.3" lengthAdjust="spacingAndGlyphs" stroke="#000" stroke-width="0.4">Mar</text>
<text x="298.9" y="547.9" font-size="14.2" fill="#000" text-anchor="start" textLength="36.1" lengthAdjust="spacingAndGlyphs" stroke="#000" stroke-width="0.4">(hPa)</text>
<g clip-path="url(#c6)">
<rect x="68.23" y="762.47" width="3.24" height="4.43" fill="rgb(246,180,125)" stroke="rgb(240,130,40)" stroke-width="1"/>
<rect x="71.48" y="741.21" width="3.24" height="25.69" fill="rgb(246,180,125)" stroke="rgb(240,130,40)" stroke-width="1"/>
<rect x="74.72" y="689.46" width="3.24" height="77.44" fill="rgb(246,180,125)" stroke="rgb(240,130,40)" stroke-width="1"/>
<rect x="77.96" y="706.12" width="3.24" height="60.78" fill="rgb(246,180,125)" stroke="rgb(240,130,40)" stroke-width="1"/>
<rect x="81.20" y="726.68" width="3.24" height="40.22" fill="rgb(246,180,125)" stroke="rgb(240,130,40)" stroke-width="1"/>
<rect x="84.45" y="738.02" width="3.24" height="28.88" fill="rgb(246,180,125)" stroke="rgb(240,130,40)" stroke-width="1"/>
<rect x="87.69" y="698.24" width="3.24" height="68.66" fill="rgb(246,180,125)" stroke="rgb(240,130,40)" stroke-width="1"/>
<rect x="90.93" y="683.97" width="3.24" height="82.93" fill="rgb(246,180,125)" stroke="rgb(240,130,40)" stroke-width="1"/>
<rect x="94.17" y="678.30" width="3.24" height="88.60" fill="rgb(246,180,125)" stroke="rgb(240,130,40)" stroke-width="1"/>
<rect x="97.42" y="678.30" width="3.24" height="88.60" fill="rgb(246,180,125)" stroke="rgb(240,130,40)" stroke-width="1"/>
<rect x="100.66" y="747.50" width="3.24" height="19.40" fill="rgb(246,180,125)" stroke="rgb(240,130,40)" stroke-width="1"/>
<rect x="110.39" y="733.59" width="3.24" height="33.31" fill="rgb(246,180,125)" stroke="rgb(240,130,40)" stroke-width="1"/>
<rect x="113.63" y="741.56" width="3.24" height="25.34" fill="rgb(246,180,125)" stroke="rgb(240,130,40)" stroke-width="1"/>
<rect x="116.87" y="736.42" width="3.24" height="30.48" fill="rgb(246,180,125)" stroke="rgb(240,130,40)" stroke-width="1"/>
<rect x="120.12" y="723.66" width="3.24" height="43.24" fill="rgb(246,180,125)" stroke="rgb(240,130,40)" stroke-width="1"/>
<rect x="123.36" y="722.07" width="3.24" height="44.83" fill="rgb(246,180,125)" stroke="rgb(240,130,40)" stroke-width="1"/>
<rect x="126.60" y="730.84" width="3.24" height="36.06" fill="rgb(246,180,125)" stroke="rgb(240,130,40)" stroke-width="1"/>
<rect x="129.84" y="722.07" width="3.24" height="44.83" fill="rgb(246,180,125)" stroke="rgb(240,130,40)" stroke-width="1"/>
<rect x="133.09" y="694.43" width="3.24" height="72.47" fill="rgb(246,180,125)" stroke="rgb(240,130,40)" stroke-width="1"/>
<rect x="136.33" y="678.30" width="3.24" height="88.60" fill="rgb(246,180,125)" stroke="rgb(240,130,40)" stroke-width="1"/>
<rect x="139.57" y="678.30" width="3.24" height="88.60" fill="rgb(246,180,125)" stroke="rgb(240,130,40)" stroke-width="1"/>
<rect x="142.81" y="678.30" width="3.24" height="88.60" fill="rgb(246,180,125)" stroke="rgb(240,130,40)" stroke-width="1"/>
<rect x="146.06" y="678.30" width="3.24" height="88.60" fill="rgb(246,180,125)" stroke="rgb(240,130,40)" stroke-width="1"/>
<rect x="149.30" y="678.30" width="3.24" height="88.60" fill="rgb(246,180,125)" stroke="rgb(240,130,40)" stroke-width="1"/>
<rect x="152.54" y="678.30" width="3.24" height="88.60" fill="rgb(246,180,125)" stroke="rgb(240,130,40)" stroke-width="1"/>
<rect x="155.78" y="693.01" width="3.24" height="73.89" fill="rgb(246,180,125)" stroke="rgb(240,130,40)" stroke-width="1"/>
<rect x="159.03" y="682.46" width="3.24" height="84.44" fill="rgb(246,180,125)" stroke="rgb(240,130,40)" stroke-width="1"/>
<rect x="162.27" y="678.30" width="3.24" height="88.60" fill="rgb(246,180,125)" stroke="rgb(240,130,40)" stroke-width="1"/>
<rect x="165.51" y="678.30" width="3.24" height="88.60" fill="rgb(246,180,125)" stroke="rgb(240,130,40)" stroke-width="1"/>
<rect x="168.75" y="678.30" width="3.24" height="88.60" fill="rgb(246,180,125)" stroke="rgb(240,130,40)" stroke-width="1"/>
<rect x="172.00" y="684.86" width="3.24" height="82.04" fill="rgb(246,180,125)" stroke="rgb(240,130,40)" stroke-width="1"/>
<rect x="175.24" y="678.30" width="3.24" height="88.60" fill="rgb(246,180,125)" stroke="rgb(240,130,40)" stroke-width="1"/>
<rect x="178.48" y="678.30" width="3.24" height="88.60" fill="rgb(246,180,125)" stroke="rgb(240,130,40)" stroke-width="1"/>
<rect x="181.72" y="678.30" width="3.24" height="88.60" fill="rgb(246,180,125)" stroke="rgb(240,130,40)" stroke-width="1"/>
<rect x="184.97" y="699.83" width="3.24" height="67.07" fill="rgb(246,180,125)" stroke="rgb(240,130,40)" stroke-width="1"/>
<rect x="188.21" y="704.26" width="3.24" height="62.64" fill="rgb(246,180,125)" stroke="rgb(240,130,40)" stroke-width="1"/>
<rect x="191.45" y="678.30" width="3.24" height="88.60" fill="rgb(246,180,125)" stroke="rgb(240,130,40)" stroke-width="1"/>
<rect x="194.69" y="678.30" width="3.24" height="88.60" fill="rgb(246,180,125)" stroke="rgb(240,130,40)" stroke-width="1"/>
<rect x="197.94" y="710.02" width="3.24" height="56.88" fill="rgb(246,180,125)" stroke="rgb(240,130,40)" stroke-width="1"/>
<rect x="201.18" y="714.09" width="3.24" height="52.81" fill="rgb(246,180,125)" stroke="rgb(240,130,40)" stroke-width="1"/>
<rect x="204.42" y="678.30" width="3.24" height="88.60" fill="rgb(246,180,125)" stroke="rgb(240,130,40)" stroke-width="1"/>
<rect x="207.66" y="678.30" width="3.24" height="88.60" fill="rgb(246,180,125)" stroke="rgb(240,130,40)" stroke-width="1"/>
<rect x="210.91" y="678.30" width="3.24" height="88.60" fill="rgb(246,180,125)" stroke="rgb(240,130,40)" stroke-width="1"/>
<rect x="214.15" y="678.30" width="3.24" height="88.60" fill="rgb(246,180,125)" stroke="rgb(240,130,40)" stroke-width="1"/>
<rect x="217.39" y="681.05" width="3.24" height="85.85" fill="rgb(246,180,125)" stroke="rgb(240,130,40)" stroke-width="1"/>
<rect x="220.63" y="678.30" width="3.24" height="88.60" fill="rgb(246,180,125)" stroke="rgb(240,130,40)" stroke-width="1"/>
<rect x="223.88" y="678.30" width="3.24" height="88.60" fill="rgb(246,180,125)" stroke="rgb(240,130,40)" stroke-width="1"/>
<rect x="227.12" y="678.30" width="3.24" height="88.60" fill="rgb(246,180,125)" stroke="rgb(240,130,40)" stroke-width="1"/>
<rect x="230.36" y="679.19" width="3.24" height="87.71" fill="rgb(246,180,125)" stroke="rgb(240,130,40)" stroke-width="1"/>
<rect x="233.60" y="735.62" width="3.24" height="31.28" fill="rgb(246,180,125)" stroke="rgb(240,130,40)" stroke-width="1"/>
<rect x="236.84" y="707.80" width="3.24" height="59.10" fill="rgb(246,180,125)" stroke="rgb(240,130,40)" stroke-width="1"/>
<rect x="240.09" y="742.45" width="3.24" height="24.45" fill="rgb(246,180,125)" stroke="rgb(240,130,40)" stroke-width="1"/>
<rect x="243.33" y="692.03" width="3.24" height="74.87" fill="rgb(246,180,125)" stroke="rgb(240,130,40)" stroke-width="1"/>
<rect x="246.57" y="698.94" width="3.24" height="67.96" fill="rgb(246,180,125)" stroke="rgb(240,130,40)" stroke-width="1"/>
<rect x="249.81" y="742.45" width="3.24" height="24.45" fill="rgb(246,180,125)" stroke="rgb(240,130,40)" stroke-width="1"/>
<rect x="253.06" y="761.94" width="3.24" height="4.96" fill="rgb(246,180,125)" stroke="rgb(240,130,40)" stroke-width="1"/>
<rect x="256.30" y="747.50" width="3.24" height="19.40" fill="rgb(246,180,125)" stroke="rgb(240,130,40)" stroke-width="1"/>
<rect x="259.54" y="696.02" width="3.24" height="70.88" fill="rgb(246,180,125)" stroke="rgb(240,130,40)" stroke-width="1"/>
<rect x="262.79" y="680.25" width="3.24" height="86.65" fill="rgb(246,180,125)" stroke="rgb(240,130,40)" stroke-width="1"/>
<rect x="266.03" y="678.30" width="3.24" height="88.60" fill="rgb(246,180,125)" stroke="rgb(240,130,40)" stroke-width="1"/>
<rect x="269.27" y="678.30" width="3.24" height="88.60" fill="rgb(246,180,125)" stroke="rgb(240,130,40)" stroke-width="1"/>
<rect x="272.51" y="678.30" width="3.24" height="88.60" fill="rgb(246,180,125)" stroke="rgb(240,130,40)" stroke-width="1"/>
<rect x="275.75" y="678.30" width="3.24" height="88.60" fill="rgb(246,180,125)" stroke="rgb(240,130,40)" stroke-width="1"/>
<rect x="279.00" y="678.30" width="3.24" height="88.60" fill="rgb(246,180,125)" stroke="rgb(240,130,40)" stroke-width="1"/>
<rect x="282.24" y="684.32" width="3.24" height="82.58" fill="rgb(246,180,125)" stroke="rgb(240,130,40)" stroke-width="1"/>
<rect x="285.48" y="725.70" width="3.24" height="41.20" fill="rgb(246,180,125)" stroke="rgb(240,130,40)" stroke-width="1"/>
<rect x="288.73" y="746.34" width="3.24" height="20.56" fill="rgb(246,180,125)" stroke="rgb(240,130,40)" stroke-width="1"/>
<rect x="308.18" y="730.84" width="3.24" height="36.06" fill="rgb(246,180,125)" stroke="rgb(240,130,40)" stroke-width="1"/>
<rect x="311.42" y="678.30" width="3.24" height="88.60" fill="rgb(246,180,125)" stroke="rgb(240,130,40)" stroke-width="1"/>
<rect x="314.66" y="678.30" width="3.24" height="88.60" fill="rgb(246,180,125)" stroke="rgb(240,130,40)" stroke-width="1"/>
<rect x="317.91" y="717.73" width="3.24" height="49.17" fill="rgb(246,180,125)" stroke="rgb(240,130,40)" stroke-width="1"/>
<rect x="321.15" y="753.61" width="3.24" height="13.29" fill="rgb(246,180,125)" stroke="rgb(240,130,40)" stroke-width="1"/>
<rect x="337.36" y="761.94" width="3.24" height="4.96" fill="rgb(246,180,125)" stroke="rgb(240,130,40)" stroke-width="1"/>
<rect x="340.60" y="765.13" width="3.24" height="1.77" fill="rgb(246,180,125)" stroke="rgb(240,130,40)" stroke-width="1"/>
<rect x="343.85" y="754.14" width="3.24" height="12.76" fill="rgb(246,180,125)" stroke="rgb(240,130,40)" stroke-width="1"/>
<rect x="347.09" y="726.94" width="3.24" height="39.96" fill="rgb(246,180,125)" stroke="rgb(240,130,40)" stroke-width="1"/>
<rect x="350.33" y="678.30" width="3.24" height="88.60" fill="rgb(246,180,125)" stroke="rgb(240,130,40)" stroke-width="1"/>
<rect x="353.57" y="678.30" width="3.24" height="88.60" fill="rgb(246,180,125)" stroke="rgb(240,130,40)" stroke-width="1"/>
<rect x="356.82" y="707.01" width="3.24" height="59.89" fill="rgb(246,180,125)" stroke="rgb(240,130,40)" stroke-width="1"/>
<rect x="360.06" y="711.17" width="3.24" height="55.73" fill="rgb(246,180,125)" stroke="rgb(240,130,40)" stroke-width="1"/>
<rect x="363.30" y="727.83" width="3.24" height="39.07" fill="rgb(246,180,125)" stroke="rgb(240,130,40)" stroke-width="1"/>
<rect x="402.21" y="742.45" width="3.24" height="24.45" fill="rgb(246,180,125)" stroke="rgb(240,130,40)" stroke-width="1"/>
<rect x="405.45" y="698.06" width="3.24" height="68.84" fill="rgb(246,180,125)" stroke="rgb(240,130,40)" stroke-width="1"/>
<rect x="408.70" y="678.30" width="3.24" height="88.60" fill="rgb(246,180,125)" stroke="rgb(240,130,40)" stroke-width="1"/>
<rect x="411.94" y="678.30" width="3.24" height="88.60" fill="rgb(246,180,125)" stroke="rgb(240,130,40)" stroke-width="1"/>
<rect x="415.18" y="678.30" width="3.24" height="88.60" fill="rgb(246,180,125)" stroke="rgb(240,130,40)" stroke-width="1"/>
<rect x="418.43" y="678.30" width="3.24" height="88.60" fill="rgb(246,180,125)" stroke="rgb(240,130,40)" stroke-width="1"/>
<rect x="421.67" y="678.30" width="3.24" height="88.60" fill="rgb(246,180,125)" stroke="rgb(240,130,40)" stroke-width="1"/>
<rect x="424.91" y="678.30" width="3.24" height="88.60" fill="rgb(246,180,125)" stroke="rgb(240,130,40)" stroke-width="1"/>
<rect x="428.15" y="694.25" width="3.24" height="72.65" fill="rgb(246,180,125)" stroke="rgb(240,130,40)" stroke-width="1"/>
<rect x="431.39" y="727.83" width="3.24" height="39.07" fill="rgb(246,180,125)" stroke="rgb(240,130,40)" stroke-width="1"/>
<rect x="434.64" y="746.34" width="3.24" height="20.56" fill="rgb(246,180,125)" stroke="rgb(240,130,40)" stroke-width="1"/>
<rect x="437.88" y="751.84" width="3.24" height="15.06" fill="rgb(246,180,125)" stroke="rgb(240,130,40)" stroke-width="1"/>
<rect x="441.12" y="758.93" width="3.24" height="7.97" fill="rgb(246,180,125)" stroke="rgb(240,130,40)" stroke-width="1"/>
<rect x="457.33" y="762.47" width="3.24" height="4.43" fill="rgb(246,180,125)" stroke="rgb(240,130,40)" stroke-width="1"/>
<rect x="463.82" y="756.45" width="3.24" height="10.45" fill="rgb(246,180,125)" stroke="rgb(240,130,40)" stroke-width="1"/>
<rect x="467.06" y="760.08" width="3.24" height="6.82" fill="rgb(246,180,125)" stroke="rgb(240,130,40)" stroke-width="1"/>
<rect x="493.00" y="747.50" width="3.24" height="19.40" fill="rgb(246,180,125)" stroke="rgb(240,130,40)" stroke-width="1"/>
<rect x="509.21" y="745.72" width="3.24" height="21.18" fill="rgb(246,180,125)" stroke="rgb(240,130,40)" stroke-width="1"/>
<rect x="512.46" y="732.88" width="3.24" height="34.02" fill="rgb(246,180,125)" stroke="rgb(240,130,40)" stroke-width="1"/>
<rect x="515.70" y="722.87" width="3.24" height="44.03" fill="rgb(246,180,125)" stroke="rgb(240,130,40)" stroke-width="1"/>
<rect x="518.94" y="681.31" width="3.24" height="85.59" fill="rgb(246,180,125)" stroke="rgb(240,130,40)" stroke-width="1"/>
<rect x="522.19" y="679.54" width="3.24" height="87.36" fill="rgb(246,180,125)" stroke="rgb(240,130,40)" stroke-width="1"/>
<rect x="525.43" y="726.94" width="3.24" height="39.96" fill="rgb(246,180,125)" stroke="rgb(240,130,40)" stroke-width="1"/>
<rect x="528.67" y="725.70" width="3.24" height="41.20" fill="rgb(246,180,125)" stroke="rgb(240,130,40)" stroke-width="1"/>
<rect x="531.91" y="724.02" width="3.24" height="42.88" fill="rgb(246,180,125)" stroke="rgb(240,130,40)" stroke-width="1"/>
<rect x="535.15" y="762.29" width="3.24" height="4.61" fill="rgb(246,180,125)" stroke="rgb(240,130,40)" stroke-width="1"/>
<rect x="538.40" y="743.95" width="3.24" height="22.95" fill="rgb(246,180,125)" stroke="rgb(240,130,40)" stroke-width="1"/>
<rect x="541.64" y="718.88" width="3.24" height="48.02" fill="rgb(246,180,125)" stroke="rgb(240,130,40)" stroke-width="1"/>
<rect x="544.88" y="752.28" width="3.24" height="14.62" fill="rgb(246,180,125)" stroke="rgb(240,130,40)" stroke-width="1"/>
<rect x="574.07" y="742.80" width="3.24" height="24.10" fill="rgb(246,180,125)" stroke="rgb(240,130,40)" stroke-width="1"/>
<rect x="577.31" y="726.94" width="3.24" height="39.96" fill="rgb(246,180,125)" stroke="rgb(240,130,40)" stroke-width="1"/>
<rect x="580.55" y="741.56" width="3.24" height="25.34" fill="rgb(246,180,125)" stroke="rgb(240,130,40)" stroke-width="1"/>
<rect x="583.79" y="747.50" width="3.24" height="19.40" fill="rgb(246,180,125)" stroke="rgb(240,130,40)" stroke-width="1"/>
<rect x="587.03" y="722.07" width="3.24" height="44.83" fill="rgb(246,180,125)" stroke="rgb(240,130,40)" stroke-width="1"/>
<rect x="590.28" y="689.46" width="3.24" height="77.44" fill="rgb(246,180,125)" stroke="rgb(240,130,40)" stroke-width="1"/>
<rect x="52.02" y="711.52" width="3.24" height="55.38" fill="none" stroke="rgb(0,220,0)" stroke-width="1"/>
<rect x="55.27" y="763.27" width="3.24" height="3.63" fill="none" stroke="rgb(0,220,0)" stroke-width="1"/>
<rect x="64.99" y="760.34" width="3.24" height="6.56" fill="none" stroke="rgb(0,220,0)" stroke-width="1"/>
<rect x="68.23" y="744.31" width="3.24" height="22.59" fill="none" stroke="rgb(0,220,0)" stroke-width="1"/>
<rect x="71.48" y="729.95" width="3.24" height="36.95" fill="none" stroke="rgb(0,220,0)" stroke-width="1"/>
<rect x="74.72" y="712.32" width="3.24" height="54.58" fill="none" stroke="rgb(0,220,0)" stroke-width="1"/>
<rect x="77.96" y="713.92" width="3.24" height="52.98" fill="none" stroke="rgb(0,220,0)" stroke-width="1"/>
<rect x="81.20" y="753.52" width="3.24" height="13.38" fill="none" stroke="rgb(0,220,0)" stroke-width="1"/>
<rect x="87.69" y="713.74" width="3.24" height="53.16" fill="none" stroke="rgb(0,220,0)" stroke-width="1"/>
<rect x="90.93" y="690.88" width="3.24" height="76.02" fill="none" stroke="rgb(0,220,0)" stroke-width="1"/>
<rect x="94.17" y="678.30" width="3.24" height="88.60" fill="none" stroke="rgb(0,220,0)" stroke-width="1"/>
<rect x="97.42" y="678.30" width="3.24" height="88.60" fill="none" stroke="rgb(0,220,0)" stroke-width="1"/>
<rect x="100.66" y="760.08" width="3.24" height="6.82" fill="none" stroke="rgb(0,220,0)" stroke-width="1"/>
<rect x="103.90" y="756.45" width="3.24" height="10.45" fill="none" stroke="rgb(0,220,0)" stroke-width="1"/>
<rect x="107.14" y="756.45" width="3.24" height="10.45" fill="none" stroke="rgb(0,220,0)" stroke-width="1"/>
<rect x="110.39" y="765.13" width="3.24" height="1.77" fill="none" stroke="rgb(0,220,0)" stroke-width="1"/>
<rect x="120.12" y="754.67" width="3.24" height="12.23" fill="none" stroke="rgb(0,220,0)" stroke-width="1"/>
<rect x="123.36" y="756.45" width="3.24" height="10.45" fill="none" stroke="rgb(0,220,0)" stroke-width="1"/>
<rect x="126.60" y="739.79" width="3.24" height="27.11" fill="none" stroke="rgb(0,220,0)" stroke-width="1"/>
<rect x="129.84" y="741.56" width="3.24" height="25.34" fill="none" stroke="rgb(0,220,0)" stroke-width="1"/>
<rect x="133.09" y="734.38" width="3.24" height="32.52" fill="none" stroke="rgb(0,220,0)" stroke-width="1"/>
<rect x="136.33" y="714.09" width="3.24" height="52.81" fill="none" stroke="rgb(0,220,0)" stroke-width="1"/>
<rect x="139.57" y="678.30" width="3.24" height="88.60" fill="none" stroke="rgb(0,220,0)" stroke-width="1"/>
<rect x="142.81" y="689.46" width="3.24" height="77.44" fill="none" stroke="rgb(0,220,0)" stroke-width="1"/>
<rect x="146.06" y="678.30" width="3.24" height="88.60" fill="none" stroke="rgb(0,220,0)" stroke-width="1"/>
<rect x="149.30" y="754.14" width="3.24" height="12.76" fill="none" stroke="rgb(0,220,0)" stroke-width="1"/>
<rect x="155.78" y="744.31" width="3.24" height="22.59" fill="none" stroke="rgb(0,220,0)" stroke-width="1"/>
<rect x="159.03" y="699.21" width="3.24" height="67.69" fill="none" stroke="rgb(0,220,0)" stroke-width="1"/>
<rect x="162.27" y="700.36" width="3.24" height="66.54" fill="none" stroke="rgb(0,220,0)" stroke-width="1"/>
<rect x="165.51" y="734.92" width="3.24" height="31.98" fill="none" stroke="rgb(0,220,0)" stroke-width="1"/>
<rect x="168.75" y="726.68" width="3.24" height="40.22" fill="none" stroke="rgb(0,220,0)" stroke-width="1"/>
<rect x="172.00" y="752.28" width="3.24" height="14.62" fill="none" stroke="rgb(0,220,0)" stroke-width="1"/>
<rect x="181.72" y="760.08" width="3.24" height="6.82" fill="none" stroke="rgb(0,220,0)" stroke-width="1"/>
<rect x="184.97" y="754.67" width="3.24" height="12.23" fill="none" stroke="rgb(0,220,0)" stroke-width="1"/>
<rect x="188.21" y="753.52" width="3.24" height="13.38" fill="none" stroke="rgb(0,220,0)" stroke-width="1"/>
<rect x="191.45" y="732.61" width="3.24" height="34.29" fill="none" stroke="rgb(0,220,0)" stroke-width="1"/>
<rect x="194.69" y="756.45" width="3.24" height="10.45" fill="none" stroke="rgb(0,220,0)" stroke-width="1"/>
<rect x="204.42" y="765.13" width="3.24" height="1.77" fill="none" stroke="rgb(0,220,0)" stroke-width="1"/>
<rect x="207.66" y="754.67" width="3.24" height="12.23" fill="none" stroke="rgb(0,220,0)" stroke-width="1"/>
<rect x="210.91" y="734.38" width="3.24" height="32.52" fill="none" stroke="rgb(0,220,0)" stroke-width="1"/>
<rect x="214.15" y="741.56" width="3.24" height="25.34" fill="none" stroke="rgb(0,220,0)" stroke-width="1"/>
<rect x="217.39" y="734.38" width="3.24" height="32.52" fill="none" stroke="rgb(0,220,0)" stroke-width="1"/>
<rect x="220.63" y="699.21" width="3.24" height="67.69" fill="none" stroke="rgb(0,220,0)" stroke-width="1"/>
<rect x="223.88" y="678.30" width="3.24" height="88.60" fill="none" stroke="rgb(0,220,0)" stroke-width="1"/>
<rect x="227.12" y="680.34" width="3.24" height="86.56" fill="none" stroke="rgb(0,220,0)" stroke-width="1"/>
<rect x="230.36" y="698.06" width="3.24" height="68.84" fill="none" stroke="rgb(0,220,0)" stroke-width="1"/>
<rect x="233.60" y="692.03" width="3.24" height="74.87" fill="none" stroke="rgb(0,220,0)" stroke-width="1"/>
<rect x="236.84" y="736.42" width="3.24" height="30.48" fill="none" stroke="rgb(0,220,0)" stroke-width="1"/>
<rect x="259.54" y="727.83" width="3.24" height="39.07" fill="none" stroke="rgb(0,220,0)" stroke-width="1"/>
<rect x="262.79" y="724.90" width="3.24" height="42.00" fill="none" stroke="rgb(0,220,0)" stroke-width="1"/>
<rect x="266.03" y="754.67" width="3.24" height="12.23" fill="none" stroke="rgb(0,220,0)" stroke-width="1"/>
<rect x="269.27" y="761.32" width="3.24" height="5.58" fill="none" stroke="rgb(0,220,0)" stroke-width="1"/>
<rect x="272.51" y="765.13" width="3.24" height="1.77" fill="none" stroke="rgb(0,220,0)" stroke-width="1"/>
<rect x="279.00" y="754.14" width="3.24" height="12.76" fill="none" stroke="rgb(0,220,0)" stroke-width="1"/>
<rect x="282.24" y="763.71" width="3.24" height="3.19" fill="none" stroke="rgb(0,220,0)" stroke-width="1"/>
<rect x="343.85" y="761.94" width="3.24" height="4.96" fill="none" stroke="rgb(0,220,0)" stroke-width="1"/>
<rect x="347.09" y="757.15" width="3.24" height="9.75" fill="none" stroke="rgb(0,220,0)" stroke-width="1"/>
<rect x="350.33" y="757.15" width="3.24" height="9.75" fill="none" stroke="rgb(0,220,0)" stroke-width="1"/>
<rect x="353.57" y="765.13" width="3.24" height="1.77" fill="none" stroke="rgb(0,220,0)" stroke-width="1"/>
<rect x="356.82" y="752.28" width="3.24" height="14.62" fill="none" stroke="rgb(0,220,0)" stroke-width="1"/>
<rect x="360.06" y="763.71" width="3.24" height="3.19" fill="none" stroke="rgb(0,220,0)" stroke-width="1"/>
<rect x="366.55" y="765.13" width="3.24" height="1.77" fill="none" stroke="rgb(0,220,0)" stroke-width="1"/>
<rect x="386.00" y="762.47" width="3.24" height="4.43" fill="none" stroke="rgb(0,220,0)" stroke-width="1"/>
<rect x="421.67" y="763.09" width="3.24" height="3.81" fill="none" stroke="rgb(0,220,0)" stroke-width="1"/>
<rect x="447.61" y="765.13" width="3.24" height="1.77" fill="none" stroke="rgb(0,220,0)" stroke-width="1"/>
<rect x="489.76" y="763.09" width="3.24" height="3.81" fill="none" stroke="rgb(0,220,0)" stroke-width="1"/>
<rect x="493.00" y="761.32" width="3.24" height="5.58" fill="none" stroke="rgb(0,220,0)" stroke-width="1"/>
<rect x="496.25" y="763.09" width="3.24" height="3.81" fill="none" stroke="rgb(0,220,0)" stroke-width="1"/>
<rect x="499.49" y="754.14" width="3.24" height="12.76" fill="none" stroke="rgb(0,220,0)" stroke-width="1"/>
<rect x="502.73" y="755.56" width="3.24" height="11.34" fill="none" stroke="rgb(0,220,0)" stroke-width="1"/>
<rect x="509.21" y="761.32" width="3.24" height="5.58" fill="none" stroke="rgb(0,220,0)" stroke-width="1"/>
<rect x="512.46" y="764.60" width="3.24" height="2.30" fill="none" stroke="rgb(0,220,0)" stroke-width="1"/>
<rect x="515.70" y="762.47" width="3.24" height="4.43" fill="none" stroke="rgb(0,220,0)" stroke-width="1"/>
<rect x="518.94" y="725.70" width="3.24" height="41.20" fill="none" stroke="rgb(0,220,0)" stroke-width="1"/>
<rect x="522.19" y="736.42" width="3.24" height="30.48" fill="none" stroke="rgb(0,220,0)" stroke-width="1"/>
<rect x="525.43" y="753.52" width="3.24" height="13.38" fill="none" stroke="rgb(0,220,0)" stroke-width="1"/>
<rect x="528.67" y="763.36" width="3.24" height="3.54" fill="none" stroke="rgb(0,220,0)" stroke-width="1"/>
<rect x="580.55" y="759.46" width="3.24" height="7.44" fill="none" stroke="rgb(0,220,0)" stroke-width="1"/>
<rect x="48.78" y="766.90" width="3.24" height="0.00" fill="none" stroke="rgb(30,60,255)" stroke-width="1"/>
<rect x="52.02" y="766.90" width="3.24" height="0.00" fill="none" stroke="rgb(30,60,255)" stroke-width="1"/>
<rect x="55.27" y="766.90" width="3.24" height="0.00" fill="none" stroke="rgb(30,60,255)" stroke-width="1"/>
<rect x="58.51" y="766.90" width="3.24" height="0.00" fill="none" stroke="rgb(30,60,255)" stroke-width="1"/>
<rect x="61.75" y="766.90" width="3.24" height="0.00" fill="none" stroke="rgb(30,60,255)" stroke-width="1"/>
<rect x="64.99" y="766.90" width="3.24" height="0.00" fill="none" stroke="rgb(30,60,255)" stroke-width="1"/>
<rect x="68.23" y="766.90" width="3.24" height="0.00" fill="none" stroke="rgb(30,60,255)" stroke-width="1"/>
<rect x="71.48" y="766.90" width="3.24" height="0.00" fill="none" stroke="rgb(30,60,255)" stroke-width="1"/>
<rect x="74.72" y="766.90" width="3.24" height="0.00" fill="none" stroke="rgb(30,60,255)" stroke-width="1"/>
<rect x="77.96" y="766.90" width="3.24" height="0.00" fill="none" stroke="rgb(30,60,255)" stroke-width="1"/>
<rect x="81.20" y="766.90" width="3.24" height="0.00" fill="none" stroke="rgb(30,60,255)" stroke-width="1"/>
<rect x="84.45" y="766.90" width="3.24" height="0.00" fill="none" stroke="rgb(30,60,255)" stroke-width="1"/>
<rect x="87.69" y="766.90" width="3.24" height="0.00" fill="none" stroke="rgb(30,60,255)" stroke-width="1"/>
<rect x="90.93" y="766.90" width="3.24" height="0.00" fill="none" stroke="rgb(30,60,255)" stroke-width="1"/>
<rect x="94.17" y="766.90" width="3.24" height="0.00" fill="none" stroke="rgb(30,60,255)" stroke-width="1"/>
<rect x="97.42" y="766.90" width="3.24" height="0.00" fill="none" stroke="rgb(30,60,255)" stroke-width="1"/>
<rect x="100.66" y="766.90" width="3.24" height="0.00" fill="none" stroke="rgb(30,60,255)" stroke-width="1"/>
<rect x="103.90" y="766.90" width="3.24" height="0.00" fill="none" stroke="rgb(30,60,255)" stroke-width="1"/>
<rect x="107.14" y="766.90" width="3.24" height="0.00" fill="none" stroke="rgb(30,60,255)" stroke-width="1"/>
<rect x="110.39" y="754.14" width="3.24" height="12.76" fill="none" stroke="rgb(30,60,255)" stroke-width="1"/>
<rect x="113.63" y="761.05" width="3.24" height="5.85" fill="none" stroke="rgb(30,60,255)" stroke-width="1"/>
<rect x="116.87" y="764.33" width="3.24" height="2.57" fill="none" stroke="rgb(30,60,255)" stroke-width="1"/>
<rect x="120.12" y="763.71" width="3.24" height="3.19" fill="none" stroke="rgb(30,60,255)" stroke-width="1"/>
<rect x="123.36" y="764.86" width="3.24" height="2.04" fill="none" stroke="rgb(30,60,255)" stroke-width="1"/>
<rect x="126.60" y="761.32" width="3.24" height="5.58" fill="none" stroke="rgb(30,60,255)" stroke-width="1"/>
<rect x="129.84" y="766.90" width="3.24" height="0.00" fill="none" stroke="rgb(30,60,255)" stroke-width="1"/>
<rect x="133.09" y="756.45" width="3.24" height="10.45" fill="none" stroke="rgb(30,60,255)" stroke-width="1"/>
<rect x="136.33" y="756.45" width="3.24" height="10.45" fill="none" stroke="rgb(30,60,255)" stroke-width="1"/>
<rect x="139.57" y="766.90" width="3.24" height="0.00" fill="none" stroke="rgb(30,60,255)" stroke-width="1"/>
<rect x="142.81" y="766.90" width="3.24" height="0.00" fill="none" stroke="rgb(30,60,255)" stroke-width="1"/>
<rect x="146.06" y="766.90" width="3.24" height="0.00" fill="none" stroke="rgb(30,60,255)" stroke-width="1"/>
<rect x="149.30" y="766.90" width="3.24" height="0.00" fill="none" stroke="rgb(30,60,255)" stroke-width="1"/>
<rect x="152.54" y="766.90" width="3.24" height="0.00" fill="none" stroke="rgb(30,60,255)" stroke-width="1"/>
<rect x="155.78" y="766.90" width="3.24" height="0.00" fill="none" stroke="rgb(30,60,255)" stroke-width="1"/>
<rect x="159.03" y="766.90" width="3.24" height="0.00" fill="none" stroke="rgb(30,60,255)" stroke-width="1"/>
<rect x="162.27" y="766.90" width="3.24" height="0.00" fill="none" stroke="rgb(30,60,255)" stroke-width="1"/>
<rect x="165.51" y="766.90" width="3.24" height="0.00" fill="none" stroke="rgb(30,60,255)" stroke-width="1"/>
<rect x="168.75" y="766.90" width="3.24" height="0.00" fill="none" stroke="rgb(30,60,255)" stroke-width="1"/>
<rect x="172.00" y="766.90" width="3.24" height="0.00" fill="none" stroke="rgb(30,60,255)" stroke-width="1"/>
<rect x="175.24" y="766.90" width="3.24" height="0.00" fill="none" stroke="rgb(30,60,255)" stroke-width="1"/>
<rect x="178.48" y="764.24" width="3.24" height="2.66" fill="none" stroke="rgb(30,60,255)" stroke-width="1"/>
<rect x="181.72" y="730.84" width="3.24" height="36.06" fill="none" stroke="rgb(30,60,255)" stroke-width="1"/>
<rect x="184.97" y="701.42" width="3.24" height="65.48" fill="none" stroke="rgb(30,60,255)" stroke-width="1"/>
<rect x="188.21" y="709.04" width="3.24" height="57.86" fill="none" stroke="rgb(30,60,255)" stroke-width="1"/>
<rect x="191.45" y="740.76" width="3.24" height="26.14" fill="none" stroke="rgb(30,60,255)" stroke-width="1"/>
<rect x="194.69" y="758.31" width="3.24" height="8.59" fill="none" stroke="rgb(30,60,255)" stroke-width="1"/>
<rect x="197.94" y="763.09" width="3.24" height="3.81" fill="none" stroke="rgb(30,60,255)" stroke-width="1"/>
<rect x="201.18" y="765.13" width="3.24" height="1.77" fill="none" stroke="rgb(30,60,255)" stroke-width="1"/>
<rect x="204.42" y="759.46" width="3.24" height="7.44" fill="none" stroke="rgb(30,60,255)" stroke-width="1"/>
<rect x="207.66" y="762.29" width="3.24" height="4.61" fill="none" stroke="rgb(30,60,255)" stroke-width="1"/>
<rect x="210.91" y="766.90" width="3.24" height="0.00" fill="none" stroke="rgb(30,60,255)" stroke-width="1"/>
<rect x="214.15" y="766.90" width="3.24" height="0.00" fill="none" stroke="rgb(30,60,255)" stroke-width="1"/>
<rect x="217.39" y="766.90" width="3.24" height="0.00" fill="none" stroke="rgb(30,60,255)" stroke-width="1"/>
<rect x="220.63" y="761.05" width="3.24" height="5.85" fill="none" stroke="rgb(30,60,255)" stroke-width="1"/>
<rect x="223.88" y="760.34" width="3.24" height="6.56" fill="none" stroke="rgb(30,60,255)" stroke-width="1"/>
<rect x="227.12" y="766.90" width="3.24" height="0.00" fill="none" stroke="rgb(30,60,255)" stroke-width="1"/>
<rect x="230.36" y="766.90" width="3.24" height="0.00" fill="none" stroke="rgb(30,60,255)" stroke-width="1"/>
<rect x="233.60" y="766.90" width="3.24" height="0.00" fill="none" stroke="rgb(30,60,255)" stroke-width="1"/>
<rect x="236.84" y="766.90" width="3.24" height="0.00" fill="none" stroke="rgb(30,60,255)" stroke-width="1"/>
<rect x="240.09" y="766.90" width="3.24" height="0.00" fill="none" stroke="rgb(30,60,255)" stroke-width="1"/>
<rect x="243.33" y="766.90" width="3.24" height="0.00" fill="none" stroke="rgb(30,60,255)" stroke-width="1"/>
<rect x="246.57" y="766.90" width="3.24" height="0.00" fill="none" stroke="rgb(30,60,255)" stroke-width="1"/>
<rect x="249.81" y="746.70" width="3.24" height="20.20" fill="none" stroke="rgb(30,60,255)" stroke-width="1"/>
<rect x="253.06" y="725.70" width="3.24" height="41.20" fill="none" stroke="rgb(30,60,255)" stroke-width="1"/>
<rect x="256.30" y="678.30" width="3.24" height="88.60" fill="none" stroke="rgb(30,60,255)" stroke-width="1"/>
<rect x="259.54" y="697.44" width="3.24" height="69.46" fill="none" stroke="rgb(30,60,255)" stroke-width="1"/>
<rect x="262.79" y="751.48" width="3.24" height="15.42" fill="none" stroke="rgb(30,60,255)" stroke-width="1"/>
<rect x="266.03" y="760.70" width="3.24" height="6.20" fill="none" stroke="rgb(30,60,255)" stroke-width="1"/>
<rect x="269.27" y="763.71" width="3.24" height="3.19" fill="none" stroke="rgb(30,60,255)" stroke-width="1"/>
<rect x="272.51" y="763.71" width="3.24" height="3.19" fill="none" stroke="rgb(30,60,255)" stroke-width="1"/>
<rect x="275.75" y="753.52" width="3.24" height="13.38" fill="none" stroke="rgb(30,60,255)" stroke-width="1"/>
<rect x="279.00" y="762.47" width="3.24" height="4.43" fill="none" stroke="rgb(30,60,255)" stroke-width="1"/>
<rect x="282.24" y="766.90" width="3.24" height="0.00" fill="none" stroke="rgb(30,60,255)" stroke-width="1"/>
<rect x="285.48" y="766.90" width="3.24" height="0.00" fill="none" stroke="rgb(30,60,255)" stroke-width="1"/>
<rect x="288.73" y="766.90" width="3.24" height="0.00" fill="none" stroke="rgb(30,60,255)" stroke-width="1"/>
<rect x="291.97" y="766.90" width="3.24" height="0.00" fill="none" stroke="rgb(30,60,255)" stroke-width="1"/>
<rect x="295.21" y="766.90" width="3.24" height="0.00" fill="none" stroke="rgb(30,60,255)" stroke-width="1"/>
<rect x="298.45" y="766.90" width="3.24" height="0.00" fill="none" stroke="rgb(30,60,255)" stroke-width="1"/>
<rect x="301.69" y="763.71" width="3.24" height="3.19" fill="none" stroke="rgb(30,60,255)" stroke-width="1"/>
<rect x="304.94" y="758.31" width="3.24" height="8.59" fill="none" stroke="rgb(30,60,255)" stroke-width="1"/>
<rect x="308.18" y="753.79" width="3.24" height="13.11" fill="none" stroke="rgb(30,60,255)" stroke-width="1"/>
<rect x="311.42" y="736.78" width="3.24" height="30.12" fill="none" stroke="rgb(30,60,255)" stroke-width="1"/>
<rect x="314.66" y="727.65" width="3.24" height="39.25" fill="none" stroke="rgb(30,60,255)" stroke-width="1"/>
<rect x="317.91" y="742.80" width="3.24" height="24.10" fill="none" stroke="rgb(30,60,255)" stroke-width="1"/>
<rect x="321.15" y="683.44" width="3.24" height="83.46" fill="none" stroke="rgb(30,60,255)" stroke-width="1"/>
<rect x="324.39" y="696.55" width="3.24" height="70.35" fill="none" stroke="rgb(30,60,255)" stroke-width="1"/>
<rect x="327.63" y="726.14" width="3.24" height="40.76" fill="none" stroke="rgb(30,60,255)" stroke-width="1"/>
<rect x="330.88" y="742.80" width="3.24" height="24.10" fill="none" stroke="rgb(30,60,255)" stroke-width="1"/>
<rect x="334.12" y="735.98" width="3.24" height="30.92" fill="none" stroke="rgb(30,60,255)" stroke-width="1"/>
<rect x="337.36" y="728.45" width="3.24" height="38.45" fill="none" stroke="rgb(30,60,255)" stroke-width="1"/>
<rect x="340.60" y="702.75" width="3.24" height="64.15" fill="none" stroke="rgb(30,60,255)" stroke-width="1"/>
<rect x="343.85" y="730.84" width="3.24" height="36.06" fill="none" stroke="rgb(30,60,255)" stroke-width="1"/>
<rect x="347.09" y="753.52" width="3.24" height="13.38" fill="none" stroke="rgb(30,60,255)" stroke-width="1"/>
<rect x="350.33" y="735.00" width="3.24" height="31.90" fill="none" stroke="rgb(30,60,255)" stroke-width="1"/>
<rect x="353.57" y="737.93" width="3.24" height="28.97" fill="none" stroke="rgb(30,60,255)" stroke-width="1"/>
<rect x="356.82" y="728.45" width="3.24" height="38.45" fill="none" stroke="rgb(30,60,255)" stroke-width="1"/>
<rect x="360.06" y="762.29" width="3.24" height="4.61" fill="none" stroke="rgb(30,60,255)" stroke-width="1"/>
<rect x="363.30" y="766.90" width="3.24" height="0.00" fill="none" stroke="rgb(30,60,255)" stroke-width="1"/>
<rect x="366.55" y="760.34" width="3.24" height="6.56" fill="none" stroke="rgb(30,60,255)" stroke-width="1"/>
<rect x="369.79" y="766.90" width="3.24" height="0.00" fill="none" stroke="rgb(30,60,255)" stroke-width="1"/>
<rect x="373.03" y="766.90" width="3.24" height="0.00" fill="none" stroke="rgb(30,60,255)" stroke-width="1"/>
<rect x="376.27" y="766.90" width="3.24" height="0.00" fill="none" stroke="rgb(30,60,255)" stroke-width="1"/>
<rect x="379.51" y="765.13" width="3.24" height="1.77" fill="none" stroke="rgb(30,60,255)" stroke-width="1"/>
<rect x="382.76" y="763.09" width="3.24" height="3.81" fill="none" stroke="rgb(30,60,255)" stroke-width="1"/>
<rect x="386.00" y="729.33" width="3.24" height="37.57" fill="none" stroke="rgb(30,60,255)" stroke-width="1"/>
<rect x="389.24" y="705.15" width="3.24" height="61.75" fill="none" stroke="rgb(30,60,255)" stroke-width="1"/>
<rect x="392.49" y="690.26" width="3.24" height="76.64" fill="none" stroke="rgb(30,60,255)" stroke-width="1"/>
<rect x="395.73" y="732.61" width="3.24" height="34.29" fill="none" stroke="rgb(30,60,255)" stroke-width="1"/>
<rect x="398.97" y="725.70" width="3.24" height="41.20" fill="none" stroke="rgb(30,60,255)" stroke-width="1"/>
<rect x="402.21" y="728.45" width="3.24" height="38.45" fill="none" stroke="rgb(30,60,255)" stroke-width="1"/>
<rect x="405.45" y="740.76" width="3.24" height="26.14" fill="none" stroke="rgb(30,60,255)" stroke-width="1"/>
<rect x="408.70" y="765.57" width="3.24" height="1.33" fill="none" stroke="rgb(30,60,255)" stroke-width="1"/>
<rect x="411.94" y="766.90" width="3.24" height="0.00" fill="none" stroke="rgb(30,60,255)" stroke-width="1"/>
<rect x="415.18" y="764.24" width="3.24" height="2.66" fill="none" stroke="rgb(30,60,255)" stroke-width="1"/>
<rect x="418.43" y="748.38" width="3.24" height="18.52" fill="none" stroke="rgb(30,60,255)" stroke-width="1"/>
<rect x="421.67" y="746.34" width="3.24" height="20.56" fill="none" stroke="rgb(30,60,255)" stroke-width="1"/>
<rect x="424.91" y="762.29" width="3.24" height="4.61" fill="none" stroke="rgb(30,60,255)" stroke-width="1"/>
<rect x="428.15" y="766.90" width="3.24" height="0.00" fill="none" stroke="rgb(30,60,255)" stroke-width="1"/>
<rect x="431.39" y="766.90" width="3.24" height="0.00" fill="none" stroke="rgb(30,60,255)" stroke-width="1"/>
<rect x="434.64" y="763.36" width="3.24" height="3.54" fill="none" stroke="rgb(30,60,255)" stroke-width="1"/>
<rect x="437.88" y="754.14" width="3.24" height="12.76" fill="none" stroke="rgb(30,60,255)" stroke-width="1"/>
<rect x="441.12" y="755.91" width="3.24" height="10.99" fill="none" stroke="rgb(30,60,255)" stroke-width="1"/>
<rect x="444.37" y="764.24" width="3.24" height="2.66" fill="none" stroke="rgb(30,60,255)" stroke-width="1"/>
<rect x="447.61" y="766.90" width="3.24" height="0.00" fill="none" stroke="rgb(30,60,255)" stroke-width="1"/>
<rect x="450.85" y="766.90" width="3.24" height="0.00" fill="none" stroke="rgb(30,60,255)" stroke-width="1"/>
<rect x="454.09" y="755.56" width="3.24" height="11.34" fill="none" stroke="rgb(30,60,255)" stroke-width="1"/>
<rect x="457.33" y="741.56" width="3.24" height="25.34" fill="none" stroke="rgb(30,60,255)" stroke-width="1"/>
<rect x="460.58" y="713.30" width="3.24" height="53.60" fill="none" stroke="rgb(30,60,255)" stroke-width="1"/>
<rect x="463.82" y="679.54" width="3.24" height="87.36" fill="none" stroke="rgb(30,60,255)" stroke-width="1"/>
<rect x="467.06" y="678.30" width="3.24" height="88.60" fill="none" stroke="rgb(30,60,255)" stroke-width="1"/>
<rect x="470.31" y="680.69" width="3.24" height="86.21" fill="none" stroke="rgb(30,60,255)" stroke-width="1"/>
<rect x="473.55" y="694.43" width="3.24" height="72.47" fill="none" stroke="rgb(30,60,255)" stroke-width="1"/>
<rect x="476.79" y="692.39" width="3.24" height="74.51" fill="none" stroke="rgb(30,60,255)" stroke-width="1"/>
<rect x="480.03" y="700.36" width="3.24" height="66.54" fill="none" stroke="rgb(30,60,255)" stroke-width="1"/>
<rect x="483.27" y="752.64" width="3.24" height="14.26" fill="none" stroke="rgb(30,60,255)" stroke-width="1"/>
<rect x="486.52" y="727.65" width="3.24" height="39.25" fill="none" stroke="rgb(30,60,255)" stroke-width="1"/>
<rect x="489.76" y="681.58" width="3.24" height="85.32" fill="none" stroke="rgb(30,60,255)" stroke-width="1"/>
<rect x="493.00" y="681.58" width="3.24" height="85.32" fill="none" stroke="rgb(30,60,255)" stroke-width="1"/>
<rect x="496.25" y="688.75" width="3.24" height="78.15" fill="none" stroke="rgb(30,60,255)" stroke-width="1"/>
<rect x="499.49" y="710.02" width="3.24" height="56.88" fill="none" stroke="rgb(30,60,255)" stroke-width="1"/>
<rect x="502.73" y="743.60" width="3.24" height="23.30" fill="none" stroke="rgb(30,60,255)" stroke-width="1"/>
<rect x="505.97" y="755.56" width="3.24" height="11.34" fill="none" stroke="rgb(30,60,255)" stroke-width="1"/>
<rect x="509.21" y="741.56" width="3.24" height="25.34" fill="none" stroke="rgb(30,60,255)" stroke-width="1"/>
<rect x="512.46" y="744.31" width="3.24" height="22.59" fill="none" stroke="rgb(30,60,255)" stroke-width="1"/>
<rect x="515.70" y="752.28" width="3.24" height="14.62" fill="none" stroke="rgb(30,60,255)" stroke-width="1"/>
<rect x="518.94" y="764.24" width="3.24" height="2.66" fill="none" stroke="rgb(30,60,255)" stroke-width="1"/>
<rect x="522.19" y="766.90" width="3.24" height="0.00" fill="none" stroke="rgb(30,60,255)" stroke-width="1"/>
<rect x="525.43" y="762.47" width="3.24" height="4.43" fill="none" stroke="rgb(30,60,255)" stroke-width="1"/>
<rect x="528.67" y="756.71" width="3.24" height="10.19" fill="none" stroke="rgb(30,60,255)" stroke-width="1"/>
<rect x="531.91" y="754.41" width="3.24" height="12.49" fill="none" stroke="rgb(30,60,255)" stroke-width="1"/>
<rect x="535.15" y="741.91" width="3.24" height="24.99" fill="none" stroke="rgb(30,60,255)" stroke-width="1"/>
<rect x="538.40" y="743.60" width="3.24" height="23.30" fill="none" stroke="rgb(30,60,255)" stroke-width="1"/>
<rect x="541.64" y="745.99" width="3.24" height="20.91" fill="none" stroke="rgb(30,60,255)" stroke-width="1"/>
<rect x="544.88" y="739.79" width="3.24" height="27.11" fill="none" stroke="rgb(30,60,255)" stroke-width="1"/>
<rect x="548.12" y="733.85" width="3.24" height="33.05" fill="none" stroke="rgb(30,60,255)" stroke-width="1"/>
<rect x="551.37" y="684.86" width="3.24" height="82.04" fill="none" stroke="rgb(30,60,255)" stroke-width="1"/>
<rect x="554.61" y="687.87" width="3.24" height="79.03" fill="none" stroke="rgb(30,60,255)" stroke-width="1"/>
<rect x="557.85" y="688.75" width="3.24" height="78.15" fill="none" stroke="rgb(30,60,255)" stroke-width="1"/>
<rect x="561.10" y="693.80" width="3.24" height="73.10" fill="none" stroke="rgb(30,60,255)" stroke-width="1"/>
<rect x="564.34" y="709.40" width="3.24" height="57.50" fill="none" stroke="rgb(30,60,255)" stroke-width="1"/>
<rect x="567.58" y="744.57" width="3.24" height="22.33" fill="none" stroke="rgb(30,60,255)" stroke-width="1"/>
<rect x="570.82" y="766.90" width="3.24" height="0.00" fill="none" stroke="rgb(30,60,255)" stroke-width="1"/>
<rect x="574.07" y="766.90" width="3.24" height="0.00" fill="none" stroke="rgb(30,60,255)" stroke-width="1"/>
<rect x="577.31" y="751.75" width="3.24" height="15.15" fill="none" stroke="rgb(30,60,255)" stroke-width="1"/>
<rect x="580.55" y="757.15" width="3.24" height="9.75" fill="none" stroke="rgb(30,60,255)" stroke-width="1"/>
<rect x="583.79" y="746.97" width="3.24" height="19.93" fill="none" stroke="rgb(30,60,255)" stroke-width="1"/>
<rect x="587.03" y="745.10" width="3.24" height="21.80" fill="none" stroke="rgb(30,60,255)" stroke-width="1"/>
<rect x="590.28" y="761.94" width="3.24" height="4.96" fill="none" stroke="rgb(30,60,255)" stroke-width="1"/>
</g>
<line x1="50.4" y1="767.20" x2="592.0" y2="767.20" stroke="rgb(30,60,255)" stroke-width="1.3"/>
<line x1="56.58" y1="749.2" x2="590.5" y2="749.2" stroke="rgb(165,165,165)" stroke-width="1.4" stroke-dasharray="1.4 5.078"/>
<line x1="56.58" y1="731.1" x2="590.5" y2="731.1" stroke="rgb(165,165,165)" stroke-width="1.4" stroke-dasharray="1.4 5.078"/>
<line x1="56.58" y1="713.1" x2="590.5" y2="713.1" stroke="rgb(165,165,165)" stroke-width="1.4" stroke-dasharray="1.4 5.078"/>
<line x1="56.58" y1="695.0" x2="590.5" y2="695.0" stroke="rgb(165,165,165)" stroke-width="1.4" stroke-dasharray="1.4 5.078"/>
<line x1="128.2" y1="682.1" x2="128.2" y2="765.7" stroke="rgb(165,165,165)" stroke-width="1.4" stroke-dasharray="1.4 5.078"/>
<line x1="206.0" y1="682.1" x2="206.0" y2="765.7" stroke="rgb(165,165,165)" stroke-width="1.4" stroke-dasharray="1.4 5.078"/>
<line x1="283.9" y1="682.1" x2="283.9" y2="765.7" stroke="rgb(165,165,165)" stroke-width="1.4" stroke-dasharray="1.4 5.078"/>
<line x1="361.7" y1="682.1" x2="361.7" y2="765.7" stroke="rgb(165,165,165)" stroke-width="1.4" stroke-dasharray="1.4 5.078"/>
<line x1="439.5" y1="682.1" x2="439.5" y2="765.7" stroke="rgb(165,165,165)" stroke-width="1.4" stroke-dasharray="1.4 5.078"/>
<line x1="517.3" y1="682.1" x2="517.3" y2="765.7" stroke="rgb(165,165,165)" stroke-width="1.4" stroke-dasharray="1.4 5.078"/>
<line x1="50.4" y1="677.0" x2="50.4" y2="767.2" stroke="#000" stroke-width="1.3" stroke-dasharray="5.4 1.1"/>
<line x1="592.0" y1="676.3" x2="592.0" y2="767.9000000000001" stroke="#000" stroke-width="1.3"/>
<line x1="51.4" y1="677.0" x2="592.0" y2="677.0" stroke="#000" stroke-width="1.3" stroke-dasharray="5.4 1.1"/>
<line x1="46.8" y1="677.0" x2="50.4" y2="677.0" stroke="#000" stroke-width="1.4"/>
<text x="44.2" y="680.8" font-size="10.9" fill="#000" text-anchor="end" stroke="#000" stroke-width="0.7">100</text>
<line x1="46.8" y1="695.0" x2="50.4" y2="695.0" stroke="#000" stroke-width="1.4"/>
<text x="44.2" y="698.8" font-size="10.9" fill="#000" text-anchor="end" stroke="#000" stroke-width="0.7">80</text>
<line x1="46.8" y1="713.1" x2="50.4" y2="713.1" stroke="#000" stroke-width="1.4"/>
<text x="44.2" y="716.9" font-size="10.9" fill="#000" text-anchor="end" stroke="#000" stroke-width="0.7">60</text>
<line x1="46.8" y1="731.1" x2="50.4" y2="731.1" stroke="#000" stroke-width="1.4"/>
<text x="44.2" y="734.9" font-size="10.9" fill="#000" text-anchor="end" stroke="#000" stroke-width="0.7">40</text>
<line x1="46.8" y1="749.2" x2="50.4" y2="749.2" stroke="#000" stroke-width="1.4"/>
<text x="44.2" y="753.0" font-size="10.9" fill="#000" text-anchor="end" stroke="#000" stroke-width="0.7">20</text>
<line x1="46.8" y1="767.2" x2="50.4" y2="767.2" stroke="#000" stroke-width="1.4"/>
<text x="44.2" y="771.0" font-size="10.9" fill="#000" text-anchor="end" stroke="#000" stroke-width="0.7">0</text>
<line x1="50.4" y1="767.2" x2="50.4" y2="770.7" stroke="#000" stroke-width="1.4"/>
<text x="50.4" y="781.4" font-size="11.8" fill="#000" text-anchor="middle" textLength="24.5" lengthAdjust="spacingAndGlyphs" stroke="#000" stroke-width="0.5">7APR</text>
<line x1="128.2" y1="767.2" x2="128.2" y2="770.7" stroke="#000" stroke-width="1.4"/>
<text x="128.2" y="781.4" font-size="11.8" fill="#000" text-anchor="middle" textLength="24.5" lengthAdjust="spacingAndGlyphs" stroke="#000" stroke-width="0.5">8APR</text>
<line x1="206.0" y1="767.2" x2="206.0" y2="770.7" stroke="#000" stroke-width="1.4"/>
<text x="206.0" y="781.4" font-size="11.8" fill="#000" text-anchor="middle" textLength="24.5" lengthAdjust="spacingAndGlyphs" stroke="#000" stroke-width="0.5">9APR</text>
<line x1="283.9" y1="767.2" x2="283.9" y2="770.7" stroke="#000" stroke-width="1.4"/>
<text x="283.9" y="781.4" font-size="11.8" fill="#000" text-anchor="middle" textLength="30.2" lengthAdjust="spacingAndGlyphs" stroke="#000" stroke-width="0.5">10APR</text>
<line x1="361.7" y1="767.2" x2="361.7" y2="770.7" stroke="#000" stroke-width="1.4"/>
<text x="361.7" y="781.4" font-size="11.8" fill="#000" text-anchor="middle" textLength="30.2" lengthAdjust="spacingAndGlyphs" stroke="#000" stroke-width="0.5">11APR</text>
<line x1="439.5" y1="767.2" x2="439.5" y2="770.7" stroke="#000" stroke-width="1.4"/>
<text x="439.5" y="781.4" font-size="11.8" fill="#000" text-anchor="middle" textLength="30.2" lengthAdjust="spacingAndGlyphs" stroke="#000" stroke-width="0.5">12APR</text>
<line x1="517.3" y1="767.2" x2="517.3" y2="770.7" stroke="#000" stroke-width="1.4"/>
<text x="517.3" y="781.4" font-size="11.8" fill="#000" text-anchor="middle" textLength="30.2" lengthAdjust="spacingAndGlyphs" stroke="#000" stroke-width="0.5">13APR</text>
<text x="50.4" y="791.9" font-size="11.8" fill="#000" text-anchor="middle" textLength="24.5" lengthAdjust="spacingAndGlyphs" stroke="#000" stroke-width="0.5">2026</text>
<text x="72.3" y="674.0" font-size="14.2" fill="#000" text-anchor="start" textLength="64.8" lengthAdjust="spacingAndGlyphs" stroke="#000" stroke-width="0.4">Cobertura</text>
<text x="143.7" y="674.0" font-size="14.2" fill="#000" text-anchor="start" textLength="17.7" lengthAdjust="spacingAndGlyphs" stroke="#000" stroke-width="0.4">de</text>
<text x="169.5" y="674.0" font-size="14.2" fill="#000" text-anchor="start" textLength="50.9" lengthAdjust="spacingAndGlyphs" stroke="#000" stroke-width="0.4">Nuvens</text>
<text x="226.0" y="674.0" font-size="14.2" fill="#000" text-anchor="start" textLength="23.9" lengthAdjust="spacingAndGlyphs" stroke="#000" stroke-width="0.4">(%)</text>
<rect x="252" y="661" width="6.6" height="11" fill="none" stroke="rgb(30,60,255)" stroke-width="1.2"/>
<text x="263.7" y="674.0" font-size="14.2" fill="rgb(30,60,255)" text-anchor="start" textLength="44.7" lengthAdjust="spacingAndGlyphs" stroke="rgb(30,60,255)" stroke-width="0.2">nuvens</text>
<text x="316.6" y="674.0" font-size="14.2" fill="rgb(30,60,255)" text-anchor="start" textLength="43.3" lengthAdjust="spacingAndGlyphs" stroke="rgb(30,60,255)" stroke-width="0.2">baixas</text>
<rect x="372" y="661.5" width="6.4" height="10.6" fill="none" stroke="rgb(0,220,0)" stroke-width="1.2"/>
<text x="382.8" y="674.0" font-size="14.2" fill="rgb(0,220,0)" text-anchor="start" textLength="45.6" lengthAdjust="spacingAndGlyphs" stroke="rgb(0,220,0)" stroke-width="0.2">nuvens</text>
<text x="436.6" y="674.0" font-size="14.2" fill="rgb(0,220,0)" text-anchor="start" textLength="47.7" lengthAdjust="spacingAndGlyphs" stroke="rgb(0,220,0)" stroke-width="0.2">medias</text>
<rect x="492.3" y="661.5" width="6.5" height="10.9" fill="none" stroke="rgb(240,130,40)" stroke-width="1.2"/>
<text x="501.3" y="674.0" font-size="14.2" fill="rgb(240,130,40)" text-anchor="start" textLength="46.3" lengthAdjust="spacingAndGlyphs" stroke="rgb(240,130,40)" stroke-width="0.2">nuvens</text>
<text x="555.6" y="674.0" font-size="14.2" fill="rgb(240,130,40)" text-anchor="start" textLength="32.0" lengthAdjust="spacingAndGlyphs" stroke="rgb(240,130,40)" stroke-width="0.2">altas</text></svg></body></html>
